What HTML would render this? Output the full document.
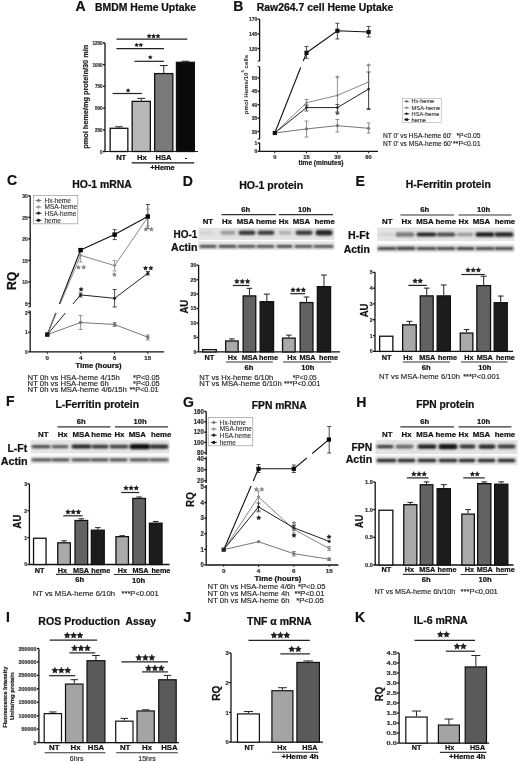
<!DOCTYPE html><html><head><meta charset="utf-8"><style>html,body{margin:0;padding:0;background:#fff;}svg{display:block;will-change:transform;filter:blur(0.3px);}</style></head><body>
<svg width="520" height="762" viewBox="0 0 520 762" font-family='"Liberation Sans", sans-serif'>
<defs><filter id="bl" x="-20%" y="-50%" width="140%" height="200%"><feGaussianBlur stdDeviation="0.9"/></filter><filter id="bl2" x="-20%" y="-50%" width="140%" height="200%"><feGaussianBlur stdDeviation="0.7"/></filter></defs>
<rect width="520" height="762" fill="#fff"/>
<text x="75.4" y="10.7" font-size="14" font-weight="bold" text-anchor="start" fill="#111" stroke="#111" stroke-width="0.22">A</text>
<text x="95" y="11" font-size="10.4" font-weight="bold" text-anchor="start" fill="#111" stroke="#111" stroke-width="0.22" textLength="101" lengthAdjust="spacingAndGlyphs">BMDM Heme Uptake</text>
<line x1="105" y1="43" x2="105" y2="151.5" stroke="#111" stroke-width="1.3"/>
<line x1="103" y1="43.0" x2="105" y2="43.0" stroke="#111" stroke-width="1.3"/>
<text x="102.7" y="45.02" font-size="5.6" font-weight="bold" text-anchor="end" fill="#333" stroke="#333" stroke-width="0.22" textLength="10.32" lengthAdjust="spacingAndGlyphs">1250</text>
<line x1="103" y1="64.7" x2="105" y2="64.7" stroke="#111" stroke-width="1.3"/>
<text x="102.7" y="66.72" font-size="5.6" font-weight="bold" text-anchor="end" fill="#333" stroke="#333" stroke-width="0.22" textLength="10.32" lengthAdjust="spacingAndGlyphs">1000</text>
<line x1="103" y1="86.4" x2="105" y2="86.4" stroke="#111" stroke-width="1.3"/>
<text x="102.7" y="88.42" font-size="5.6" font-weight="bold" text-anchor="end" fill="#333" stroke="#333" stroke-width="0.22" textLength="7.74" lengthAdjust="spacingAndGlyphs">750</text>
<line x1="103" y1="108.1" x2="105" y2="108.1" stroke="#111" stroke-width="1.3"/>
<text x="102.7" y="110.12" font-size="5.6" font-weight="bold" text-anchor="end" fill="#333" stroke="#333" stroke-width="0.22" textLength="7.74" lengthAdjust="spacingAndGlyphs">500</text>
<line x1="103" y1="129.8" x2="105" y2="129.8" stroke="#111" stroke-width="1.3"/>
<text x="102.7" y="131.82" font-size="5.6" font-weight="bold" text-anchor="end" fill="#333" stroke="#333" stroke-width="0.22" textLength="7.74" lengthAdjust="spacingAndGlyphs">250</text>
<line x1="103" y1="151.5" x2="105" y2="151.5" stroke="#111" stroke-width="1.3"/>
<text x="102.7" y="153.52" font-size="5.6" font-weight="bold" text-anchor="end" fill="#333" stroke="#333" stroke-width="0.22" textLength="2.58" lengthAdjust="spacingAndGlyphs">0</text>
<line x1="105" y1="151.5" x2="198" y2="151.5" stroke="#222" stroke-width="1.2"/>
<text x="88.2" y="96.8" font-size="7.6" font-weight="bold" text-anchor="middle" fill="#222" stroke="#222" stroke-width="0.22" textLength="104" lengthAdjust="spacingAndGlyphs" transform="rotate(-90 88.2 96.8)">pmol heme/mg protein/30 min</text>
<rect x="110.15" y="128.28" width="17.7" height="23.220000000000006" fill="#ffffff" stroke="#111" stroke-width="1.3"/>
<line x1="119.0" y1="127.63" x2="119.0" y2="126.762" stroke="#222" stroke-width="1.0"/>
<line x1="115.2" y1="126.762" x2="122.8" y2="126.762" stroke="#222" stroke-width="1.0"/>
<rect x="132.15" y="101.37200000000001" width="18.2" height="50.12799999999999" fill="#b8b8b8" stroke="#111" stroke-width="1.3"/>
<line x1="141.25" y1="100.72200000000001" x2="141.25" y2="98.3784" stroke="#222" stroke-width="1.0"/>
<line x1="137.35" y1="98.3784" x2="145.15" y2="98.3784" stroke="#222" stroke-width="1.0"/>
<rect x="154.65" y="73.596" width="18.2" height="77.904" fill="#7a7a7a" stroke="#111" stroke-width="1.3"/>
<line x1="163.75" y1="72.946" x2="163.75" y2="65.568" stroke="#222" stroke-width="1.0"/>
<line x1="159.85" y1="65.568" x2="167.65" y2="65.568" stroke="#222" stroke-width="1.0"/>
<rect x="176.45000000000002" y="62.312000000000005" width="17.899999999999988" height="89.18799999999999" fill="#0a0a0a" stroke="#111" stroke-width="1.3"/>
<line x1="185.4" y1="61.662000000000006" x2="185.4" y2="61.227999999999994" stroke="#222" stroke-width="1.0"/>
<line x1="181.56" y1="61.227999999999994" x2="189.24" y2="61.227999999999994" stroke="#222" stroke-width="1.0"/>
<line x1="116.5" y1="39.1" x2="187.3" y2="39.1" stroke="#222" stroke-width="1.2"/>
<polygon points="149.12,33.41 149.90,34.99 151.65,35.24 150.38,36.48 150.68,38.22 149.12,37.40 147.55,38.22 147.85,36.48 146.59,35.24 148.33,34.99" fill="#222"/>
<polygon points="153.55,33.41 154.33,34.99 156.08,35.24 154.81,36.48 155.11,38.22 153.55,37.40 151.99,38.22 152.29,36.48 151.02,35.24 152.77,34.99" fill="#222"/>
<polygon points="157.98,33.41 158.77,34.99 160.51,35.24 159.25,36.48 159.55,38.22 157.98,37.40 156.42,38.22 156.72,36.48 155.45,35.24 157.20,34.99" fill="#222"/>
<line x1="116.5" y1="48.6" x2="164" y2="48.6" stroke="#222" stroke-width="1.2"/>
<polygon points="136.68,42.56 137.41,44.04 139.04,44.28 137.86,45.43 138.14,47.06 136.68,46.29 135.21,47.06 135.49,45.43 134.31,44.28 135.94,44.04" fill="#222"/>
<polygon points="140.82,42.56 141.56,44.04 143.19,44.28 142.01,45.43 142.29,47.06 140.82,46.29 139.36,47.06 139.64,45.43 138.46,44.28 140.09,44.04" fill="#222"/>
<line x1="134.4" y1="61.3" x2="164" y2="61.3" stroke="#222" stroke-width="1.2"/>
<polygon points="150.25,54.89 150.97,56.35 152.59,56.59 151.42,57.73 151.70,59.34 150.25,58.58 148.80,59.34 149.08,57.73 147.91,56.59 149.53,56.35" fill="#222"/>
<line x1="112.6" y1="93.5" x2="141.8" y2="93.5" stroke="#222" stroke-width="1.2"/>
<polygon points="128.10,87.93 128.84,89.43 130.50,89.67 129.30,90.84 129.58,92.49 128.10,91.71 126.62,92.49 126.90,90.84 125.70,89.67 127.36,89.43" fill="#222"/>
<text x="121.2" y="160.3" font-size="7.6" font-weight="bold" text-anchor="middle" fill="#111" stroke="#111" stroke-width="0.22">NT</text>
<text x="141.9" y="160.3" font-size="7.6" font-weight="bold" text-anchor="middle" fill="#111" stroke="#111" stroke-width="0.22">Hx</text>
<text x="163.5" y="160.3" font-size="7.6" font-weight="bold" text-anchor="middle" fill="#111" stroke="#111" stroke-width="0.22">HSA</text>
<text x="186" y="160.3" font-size="7.6" font-weight="bold" text-anchor="middle" fill="#111" stroke="#111" stroke-width="0.22">-</text>
<line x1="131.7" y1="162.8" x2="194.2" y2="162.8" stroke="#111" stroke-width="1.3"/>
<text x="162.5" y="169.9" font-size="7.4" font-weight="bold" text-anchor="middle" fill="#111" stroke="#111" stroke-width="0.22">+Heme</text>
<text x="233.3" y="10.6" font-size="14" font-weight="bold" text-anchor="start" fill="#111" stroke="#111" stroke-width="0.22">B</text>
<text x="256.8" y="10.6" font-size="10.4" font-weight="bold" text-anchor="start" fill="#111" stroke="#111" stroke-width="0.22" textLength="136.6" lengthAdjust="spacingAndGlyphs">Raw264.7 cell Heme Uptake</text>
<line x1="259.6" y1="19.2" x2="259.6" y2="61.2" stroke="#111" stroke-width="1.3"/>
<line x1="257.6" y1="19.2" x2="259.6" y2="19.2" stroke="#111" stroke-width="1.3"/>
<text x="257.3" y="21.22" font-size="5.6" font-weight="bold" text-anchor="end" fill="#333" stroke="#333" stroke-width="0.22" textLength="8.4" lengthAdjust="spacingAndGlyphs">170</text>
<line x1="257.6" y1="33.85" x2="259.6" y2="33.85" stroke="#111" stroke-width="1.3"/>
<text x="257.3" y="35.87" font-size="5.6" font-weight="bold" text-anchor="end" fill="#333" stroke="#333" stroke-width="0.22" textLength="8.4" lengthAdjust="spacingAndGlyphs">145</text>
<line x1="257.6" y1="48.5" x2="259.6" y2="48.5" stroke="#111" stroke-width="1.3"/>
<text x="257.3" y="50.52" font-size="5.6" font-weight="bold" text-anchor="end" fill="#333" stroke="#333" stroke-width="0.22" textLength="8.4" lengthAdjust="spacingAndGlyphs">120</text>
<line x1="257.6" y1="61.2" x2="259.6" y2="61.2" stroke="#222" stroke-width="1"/>
<line x1="259.6" y1="66.7" x2="259.6" y2="139.2" stroke="#111" stroke-width="1.3"/>
<line x1="257.6" y1="77.9" x2="259.6" y2="77.9" stroke="#111" stroke-width="1.3"/>
<text x="257.3" y="79.92" font-size="5.6" font-weight="bold" text-anchor="end" fill="#333" stroke="#333" stroke-width="0.22" textLength="5.6" lengthAdjust="spacingAndGlyphs">50</text>
<line x1="257.6" y1="91.30000000000001" x2="259.6" y2="91.30000000000001" stroke="#111" stroke-width="1.3"/>
<text x="257.3" y="93.32" font-size="5.6" font-weight="bold" text-anchor="end" fill="#333" stroke="#333" stroke-width="0.22" textLength="5.6" lengthAdjust="spacingAndGlyphs">45</text>
<line x1="257.6" y1="104.7" x2="259.6" y2="104.7" stroke="#111" stroke-width="1.3"/>
<text x="257.3" y="106.72" font-size="5.6" font-weight="bold" text-anchor="end" fill="#333" stroke="#333" stroke-width="0.22" textLength="5.6" lengthAdjust="spacingAndGlyphs">40</text>
<line x1="257.6" y1="118.1" x2="259.6" y2="118.1" stroke="#111" stroke-width="1.3"/>
<text x="257.3" y="120.12" font-size="5.6" font-weight="bold" text-anchor="end" fill="#333" stroke="#333" stroke-width="0.22" textLength="5.6" lengthAdjust="spacingAndGlyphs">35</text>
<line x1="257.6" y1="131.5" x2="259.6" y2="131.5" stroke="#111" stroke-width="1.3"/>
<text x="257.3" y="133.52" font-size="5.6" font-weight="bold" text-anchor="end" fill="#333" stroke="#333" stroke-width="0.22" textLength="5.6" lengthAdjust="spacingAndGlyphs">30</text>
<line x1="257.6" y1="66.7" x2="259.6" y2="66.7" stroke="#222" stroke-width="1"/>
<line x1="257.6" y1="139.2" x2="259.6" y2="139.2" stroke="#222" stroke-width="1"/>
<line x1="259.6" y1="142.7" x2="259.6" y2="151.3" stroke="#111" stroke-width="1.3"/>
<line x1="257.6" y1="143.0" x2="259.6" y2="143.0" stroke="#111" stroke-width="1.3"/>
<text x="257.3" y="145.02" font-size="5.6" font-weight="bold" text-anchor="end" fill="#333" stroke="#333" stroke-width="0.22" textLength="2.8" lengthAdjust="spacingAndGlyphs">1</text>
<line x1="257.6" y1="151.3" x2="259.6" y2="151.3" stroke="#111" stroke-width="1.3"/>
<text x="257.3" y="153.32" font-size="5.6" font-weight="bold" text-anchor="end" fill="#333" stroke="#333" stroke-width="0.22" textLength="2.8" lengthAdjust="spacingAndGlyphs">0</text>
<line x1="259.6" y1="151.3" x2="378" y2="151.3" stroke="#111" stroke-width="1.3"/>
<line x1="274.8" y1="151.3" x2="274.8" y2="153.3" stroke="#222" stroke-width="1"/>
<text x="274.8" y="158.9" font-size="5.8" font-weight="bold" text-anchor="middle" fill="#333" stroke="#333" stroke-width="0.22">0</text>
<line x1="306.5" y1="151.3" x2="306.5" y2="153.3" stroke="#222" stroke-width="1"/>
<text x="306.5" y="158.9" font-size="5.8" font-weight="bold" text-anchor="middle" fill="#333" stroke="#333" stroke-width="0.22">15</text>
<line x1="337.4" y1="151.3" x2="337.4" y2="153.3" stroke="#222" stroke-width="1"/>
<text x="337.4" y="158.9" font-size="5.8" font-weight="bold" text-anchor="middle" fill="#333" stroke="#333" stroke-width="0.22">30</text>
<line x1="368.6" y1="151.3" x2="368.6" y2="153.3" stroke="#222" stroke-width="1"/>
<text x="368.6" y="158.9" font-size="5.8" font-weight="bold" text-anchor="middle" fill="#333" stroke="#333" stroke-width="0.22">60</text>
<text x="321" y="164.8" font-size="6.6" font-weight="bold" text-anchor="middle" fill="#222" stroke="#222" stroke-width="0.22" textLength="45" lengthAdjust="spacingAndGlyphs">time (minutes)</text>
<g transform="rotate(-90 247.8 114.2)"><text x="247.8" y="114.2" font-size="6" font-weight="bold" fill="#222" textLength="41.7" lengthAdjust="spacingAndGlyphs">pmol Heme/10</text><text x="289.6" y="110.6" font-size="4.2" font-weight="bold" fill="#222">6</text><text x="293.6" y="114.2" font-size="6" font-weight="bold" fill="#222" textLength="13.6" lengthAdjust="spacingAndGlyphs">cells</text></g>
<line x1="306.5" y1="46.5" x2="306.5" y2="58.3" stroke="#222" stroke-width="0.8"/>
<line x1="304.5" y1="46.5" x2="308.5" y2="46.5" stroke="#222" stroke-width="0.8"/>
<line x1="304.5" y1="58.3" x2="308.5" y2="58.3" stroke="#222" stroke-width="0.8"/>
<line x1="337.4" y1="23.3" x2="337.4" y2="39" stroke="#222" stroke-width="0.8"/>
<line x1="335.4" y1="23.3" x2="339.4" y2="23.3" stroke="#222" stroke-width="0.8"/>
<line x1="335.4" y1="39" x2="339.4" y2="39" stroke="#222" stroke-width="0.8"/>
<line x1="368.6" y1="26.4" x2="368.6" y2="37" stroke="#222" stroke-width="0.8"/>
<line x1="366.6" y1="26.4" x2="370.6" y2="26.4" stroke="#222" stroke-width="0.8"/>
<line x1="366.6" y1="37" x2="370.6" y2="37" stroke="#222" stroke-width="0.8"/>
<polyline points="306.5,52.8 337.4,30.8 368.6,32" fill="none" stroke="#111" stroke-width="1.1"/>
<line x1="274.8" y1="133" x2="300.689650872818" y2="67.5" stroke="#111" stroke-width="1.1"/>
<line x1="303.25885286783046" y1="61" x2="306.5" y2="52.8" stroke="#111" stroke-width="1.1"/>
<line x1="337.4" y1="77" x2="337.4" y2="113" stroke="#777" stroke-width="0.8"/>
<line x1="335.4" y1="77" x2="339.4" y2="77" stroke="#777" stroke-width="0.8"/>
<line x1="335.4" y1="113" x2="339.4" y2="113" stroke="#777" stroke-width="0.8"/>
<line x1="368.6" y1="65.2" x2="368.6" y2="109.2" stroke="#777" stroke-width="0.8"/>
<line x1="366.6" y1="65.2" x2="370.6" y2="65.2" stroke="#777" stroke-width="0.8"/>
<line x1="366.6" y1="109.2" x2="370.6" y2="109.2" stroke="#777" stroke-width="0.8"/>
<line x1="306.5" y1="99.5" x2="306.5" y2="106" stroke="#777" stroke-width="0.8"/>
<line x1="304.5" y1="99.5" x2="308.5" y2="99.5" stroke="#777" stroke-width="0.8"/>
<line x1="304.5" y1="106" x2="308.5" y2="106" stroke="#777" stroke-width="0.8"/>
<polyline points="274.8,133 306.5,102.7 337.4,95.4 368.6,82" fill="none" stroke="#888" stroke-width="1"/>
<line x1="306.5" y1="105" x2="306.5" y2="111" stroke="#333" stroke-width="0.8"/>
<line x1="304.5" y1="105" x2="308.5" y2="105" stroke="#333" stroke-width="0.8"/>
<line x1="304.5" y1="111" x2="308.5" y2="111" stroke="#333" stroke-width="0.8"/>
<line x1="337.4" y1="104.5" x2="337.4" y2="112" stroke="#333" stroke-width="0.8"/>
<line x1="335.4" y1="104.5" x2="339.4" y2="104.5" stroke="#333" stroke-width="0.8"/>
<line x1="335.4" y1="112" x2="339.4" y2="112" stroke="#333" stroke-width="0.8"/>
<line x1="368.6" y1="72" x2="368.6" y2="109" stroke="#333" stroke-width="0.8"/>
<line x1="366.6" y1="72" x2="370.6" y2="72" stroke="#333" stroke-width="0.8"/>
<line x1="366.6" y1="109" x2="370.6" y2="109" stroke="#333" stroke-width="0.8"/>
<polyline points="274.8,133 306.5,107.6 337.4,107.6 368.6,89.1" fill="none" stroke="#222" stroke-width="1"/>
<line x1="306.5" y1="121" x2="306.5" y2="137" stroke="#777" stroke-width="0.8"/>
<line x1="304.5" y1="121" x2="308.5" y2="121" stroke="#777" stroke-width="0.8"/>
<line x1="304.5" y1="137" x2="308.5" y2="137" stroke="#777" stroke-width="0.8"/>
<line x1="337.4" y1="119.5" x2="337.4" y2="132" stroke="#777" stroke-width="0.8"/>
<line x1="335.4" y1="119.5" x2="339.4" y2="119.5" stroke="#777" stroke-width="0.8"/>
<line x1="335.4" y1="132" x2="339.4" y2="132" stroke="#777" stroke-width="0.8"/>
<line x1="368.6" y1="123" x2="368.6" y2="133" stroke="#777" stroke-width="0.8"/>
<line x1="366.6" y1="123" x2="370.6" y2="123" stroke="#777" stroke-width="0.8"/>
<line x1="366.6" y1="133" x2="370.6" y2="133" stroke="#777" stroke-width="0.8"/>
<polyline points="274.8,133 306.5,128.9 337.4,125.7 368.6,128.3" fill="none" stroke="#777" stroke-width="1"/>
<circle cx="306.5" cy="128.9" r="1.6" fill="#777"/>
<circle cx="337.4" cy="125.7" r="1.6" fill="#777"/>
<circle cx="368.6" cy="128.3" r="1.6" fill="#777"/>
<polygon points="306.5,101.14 308.06,102.7 306.5,104.26 304.94,102.7" fill="#888"/>
<polygon points="337.4,93.84 338.96,95.4 337.4,96.96000000000001 335.84,95.4" fill="#888"/>
<polygon points="368.6,80.44 370.16,82 368.6,83.56 367.04,82" fill="#888"/>
<polygon points="306.5,105.91999999999999 308.18,107.6 306.5,109.28 304.82,107.6" fill="#222"/>
<polygon points="337.4,105.91999999999999 339.08,107.6 337.4,109.28 335.71999999999997,107.6" fill="#222"/>
<polygon points="368.6,87.41999999999999 370.28000000000003,89.1 368.6,90.78 366.92,89.1" fill="#222"/>
<rect x="304.4" y="50.699999999999996" width="4.2" height="4.2" fill="#111"/>
<rect x="335.29999999999995" y="28.7" width="4.2" height="4.2" fill="#111"/>
<rect x="366.5" y="29.9" width="4.2" height="4.2" fill="#111"/>
<rect x="272.7" y="130.9" width="4.2" height="4.2" fill="#111"/>
<polygon points="337.40,75.00 337.99,76.19 339.30,76.38 338.35,77.31 338.58,78.62 337.40,78.00 336.22,78.62 336.45,77.31 335.50,76.38 336.81,76.19" fill="#888"/>
<polygon points="368.60,63.00 369.19,64.19 370.50,64.38 369.55,65.31 369.78,66.62 368.60,66.00 367.42,66.62 367.65,65.31 366.70,64.38 368.01,64.19" fill="#888"/>
<polygon points="368.60,106.80 369.19,107.99 370.50,108.18 369.55,109.11 369.78,110.42 368.60,109.80 367.42,110.42 367.65,109.11 366.70,108.18 368.01,107.99" fill="#444"/>
<polygon points="337.40,111.60 337.99,112.79 339.30,112.98 338.35,113.91 338.58,115.22 337.40,114.60 336.22,115.22 336.45,113.91 335.50,112.98 336.81,112.79" fill="#444"/>
<rect x="402.6" y="98.5" width="38.6" height="23.9" fill="#fff" stroke="#aaa" stroke-width="0.6"/>
<line x1="404" y1="101.4" x2="409.5" y2="101.4" stroke="#777" stroke-width="0.8"/>
<circle cx="406.6" cy="101.4" r="1.3" fill="#777"/>
<text x="411.6" y="103.4" font-size="5.7" text-anchor="start" fill="#333" stroke="#333" stroke-width="0.13" textLength="22.5" lengthAdjust="spacingAndGlyphs">Hx-heme</text>
<line x1="404" y1="107.8" x2="409.5" y2="107.8" stroke="#888" stroke-width="0.8"/>
<polygon points="406.6,106.24 408.16,107.8 406.6,109.36 405.04,107.8" fill="#888"/>
<text x="411.6" y="109.8" font-size="5.7" text-anchor="start" fill="#333" stroke="#333" stroke-width="0.13" textLength="28.6" lengthAdjust="spacingAndGlyphs">MSA-heme</text>
<line x1="404" y1="113.8" x2="409.5" y2="113.8" stroke="#222" stroke-width="0.8"/>
<polygon points="406.6,112.24 408.16,113.8 406.6,115.36 405.04,113.8" fill="#222"/>
<text x="411.6" y="115.8" font-size="5.7" text-anchor="start" fill="#333" stroke="#333" stroke-width="0.13" textLength="27.8" lengthAdjust="spacingAndGlyphs">HSA-heme</text>
<line x1="404" y1="119.6" x2="409.5" y2="119.6" stroke="#111" stroke-width="0.8"/>
<rect x="405.3" y="118.3" width="2.6" height="2.6" fill="#111"/>
<text x="411.6" y="121.6" font-size="5.7" text-anchor="start" fill="#333" stroke="#333" stroke-width="0.13" textLength="14.2" lengthAdjust="spacingAndGlyphs">heme</text>
<text x="383" y="138.3" font-size="6.4" text-anchor="start" fill="#222" stroke="#222" stroke-width="0.13" textLength="68.6" lengthAdjust="spacingAndGlyphs">NT 0' vs HSA-heme 60'</text>
<text x="383" y="146.3" font-size="6.4" text-anchor="start" fill="#222" stroke="#222" stroke-width="0.13" textLength="69" lengthAdjust="spacingAndGlyphs">NT 0' vs MSA-heme 60'</text>
<text x="480.5" y="138.3" font-size="6.4" text-anchor="end" fill="#222" stroke="#222" stroke-width="0.13" textLength="24" lengthAdjust="spacingAndGlyphs">*P&lt;0.05</text>
<text x="480.5" y="146.3" font-size="6.4" text-anchor="end" fill="#222" stroke="#222" stroke-width="0.13" textLength="27.5" lengthAdjust="spacingAndGlyphs">**P&lt;0.01</text>
<text x="7.0" y="185.4" font-size="14" font-weight="bold" text-anchor="start" fill="#111" stroke="#111" stroke-width="0.22">C</text>
<text x="72.3" y="188.3" font-size="10.1" font-weight="bold" text-anchor="start" fill="#111" stroke="#111" stroke-width="0.22" textLength="59.5" lengthAdjust="spacingAndGlyphs">HO-1 mRNA</text>
<line x1="30.2" y1="195.8" x2="30.2" y2="306.9" stroke="#111" stroke-width="1.3"/>
<line x1="28.2" y1="195.8" x2="30.2" y2="195.8" stroke="#111" stroke-width="1.3"/>
<text x="27.9" y="197.96" font-size="6" font-weight="bold" text-anchor="end" fill="#333" stroke="#333" stroke-width="0.22" textLength="5.6" lengthAdjust="spacingAndGlyphs">30</text>
<line x1="28.2" y1="217.34" x2="30.2" y2="217.34" stroke="#111" stroke-width="1.3"/>
<text x="27.9" y="219.5" font-size="6" font-weight="bold" text-anchor="end" fill="#333" stroke="#333" stroke-width="0.22" textLength="5.6" lengthAdjust="spacingAndGlyphs">25</text>
<line x1="28.2" y1="238.88" x2="30.2" y2="238.88" stroke="#111" stroke-width="1.3"/>
<text x="27.9" y="241.04" font-size="6" font-weight="bold" text-anchor="end" fill="#333" stroke="#333" stroke-width="0.22" textLength="5.6" lengthAdjust="spacingAndGlyphs">20</text>
<line x1="28.2" y1="260.42" x2="30.2" y2="260.42" stroke="#111" stroke-width="1.3"/>
<text x="27.9" y="262.58" font-size="6" font-weight="bold" text-anchor="end" fill="#333" stroke="#333" stroke-width="0.22" textLength="5.6" lengthAdjust="spacingAndGlyphs">15</text>
<line x1="28.2" y1="281.96000000000004" x2="30.2" y2="281.96000000000004" stroke="#111" stroke-width="1.3"/>
<text x="27.9" y="284.12" font-size="6" font-weight="bold" text-anchor="end" fill="#333" stroke="#333" stroke-width="0.22" textLength="5.6" lengthAdjust="spacingAndGlyphs">10</text>
<line x1="28.2" y1="303.5" x2="30.2" y2="303.5" stroke="#111" stroke-width="1.3"/>
<text x="27.9" y="305.66" font-size="6" font-weight="bold" text-anchor="end" fill="#333" stroke="#333" stroke-width="0.22" textLength="2.8" lengthAdjust="spacingAndGlyphs">5</text>
<line x1="30.2" y1="311" x2="30.2" y2="351.9" stroke="#111" stroke-width="1.3"/>
<line x1="28.2" y1="312.7" x2="30.2" y2="312.7" stroke="#111" stroke-width="1.3"/>
<text x="27.9" y="314.86" font-size="6" font-weight="bold" text-anchor="end" fill="#333" stroke="#333" stroke-width="0.22" textLength="2.8" lengthAdjust="spacingAndGlyphs">2</text>
<line x1="28.2" y1="332.29999999999995" x2="30.2" y2="332.29999999999995" stroke="#111" stroke-width="1.3"/>
<text x="27.9" y="334.46" font-size="6" font-weight="bold" text-anchor="end" fill="#333" stroke="#333" stroke-width="0.22" textLength="2.8" lengthAdjust="spacingAndGlyphs">1</text>
<line x1="28.2" y1="351.9" x2="30.2" y2="351.9" stroke="#111" stroke-width="1.3"/>
<text x="27.9" y="354.06" font-size="6" font-weight="bold" text-anchor="end" fill="#333" stroke="#333" stroke-width="0.22" textLength="2.8" lengthAdjust="spacingAndGlyphs">0</text>
<line x1="28.2" y1="306.9" x2="30.2" y2="306.9" stroke="#222" stroke-width="1"/>
<line x1="28.2" y1="311" x2="30.2" y2="311" stroke="#222" stroke-width="1"/>
<line x1="30.2" y1="351.9" x2="164.2" y2="351.9" stroke="#111" stroke-width="1.3"/>
<line x1="47.3" y1="351.9" x2="47.3" y2="353.9" stroke="#222" stroke-width="1"/>
<text x="47.3" y="360.4" font-size="6.2" font-weight="bold" text-anchor="middle" fill="#333" stroke="#333" stroke-width="0.22">0</text>
<line x1="80.8" y1="351.9" x2="80.8" y2="353.9" stroke="#222" stroke-width="1"/>
<text x="80.8" y="360.4" font-size="6.2" font-weight="bold" text-anchor="middle" fill="#333" stroke="#333" stroke-width="0.22">4</text>
<line x1="114.6" y1="351.9" x2="114.6" y2="353.9" stroke="#222" stroke-width="1"/>
<text x="114.6" y="360.4" font-size="6.2" font-weight="bold" text-anchor="middle" fill="#333" stroke="#333" stroke-width="0.22">6</text>
<line x1="147.8" y1="351.9" x2="147.8" y2="353.9" stroke="#222" stroke-width="1"/>
<text x="147.8" y="360.4" font-size="6.2" font-weight="bold" text-anchor="middle" fill="#333" stroke="#333" stroke-width="0.22">15</text>
<text x="98.5" y="368.4" font-size="7.6" font-weight="bold" text-anchor="middle" fill="#111" stroke="#111" stroke-width="0.22" textLength="46" lengthAdjust="spacingAndGlyphs">Time (hours)</text>
<text x="16.2" y="280.9" font-size="12.3" font-weight="bold" text-anchor="middle" fill="#111" stroke="#111" stroke-width="0.22" textLength="18.3" lengthAdjust="spacingAndGlyphs" transform="rotate(-90 16.2 280.9)">RQ</text>
<line x1="114.6" y1="229.6" x2="114.6" y2="239.6" stroke="#222" stroke-width="0.8"/>
<line x1="112.6" y1="229.6" x2="116.6" y2="229.6" stroke="#222" stroke-width="0.8"/>
<line x1="112.6" y1="239.6" x2="116.6" y2="239.6" stroke="#222" stroke-width="0.8"/>
<line x1="147.8" y1="204.5" x2="147.8" y2="228.5" stroke="#222" stroke-width="0.8"/>
<line x1="145.8" y1="204.5" x2="149.8" y2="204.5" stroke="#222" stroke-width="0.8"/>
<line x1="145.8" y1="228.5" x2="149.8" y2="228.5" stroke="#222" stroke-width="0.8"/>
<line x1="80.6" y1="248.5" x2="80.6" y2="251.5" stroke="#222" stroke-width="0.8"/>
<line x1="78.6" y1="248.5" x2="82.6" y2="248.5" stroke="#222" stroke-width="0.8"/>
<line x1="78.6" y1="251.5" x2="82.6" y2="251.5" stroke="#222" stroke-width="0.8"/>
<polyline points="80.6,250.1 114.6,234.6 147.8,216.5" fill="none" stroke="#111" stroke-width="1.1"/>
<line x1="80.6" y1="251" x2="80.6" y2="262" stroke="#888" stroke-width="0.8"/>
<line x1="78.6" y1="251" x2="82.6" y2="251" stroke="#888" stroke-width="0.8"/>
<line x1="78.6" y1="262" x2="82.6" y2="262" stroke="#888" stroke-width="0.8"/>
<line x1="114.6" y1="260.5" x2="114.6" y2="271" stroke="#888" stroke-width="0.8"/>
<line x1="112.6" y1="260.5" x2="116.6" y2="260.5" stroke="#888" stroke-width="0.8"/>
<line x1="112.6" y1="271" x2="116.6" y2="271" stroke="#888" stroke-width="0.8"/>
<line x1="147.8" y1="209" x2="147.8" y2="226" stroke="#888" stroke-width="0.8"/>
<line x1="145.8" y1="209" x2="149.8" y2="209" stroke="#888" stroke-width="0.8"/>
<line x1="145.8" y1="226" x2="149.8" y2="226" stroke="#888" stroke-width="0.8"/>
<polyline points="80.6,255.3 114.6,265.6 147.8,217.3" fill="none" stroke="#888" stroke-width="1"/>
<line x1="80.6" y1="293" x2="80.6" y2="297" stroke="#222" stroke-width="0.8"/>
<line x1="78.6" y1="293" x2="82.6" y2="293" stroke="#222" stroke-width="0.8"/>
<line x1="78.6" y1="297" x2="82.6" y2="297" stroke="#222" stroke-width="0.8"/>
<line x1="114.6" y1="289.5" x2="114.6" y2="307" stroke="#222" stroke-width="0.8"/>
<line x1="112.6" y1="289.5" x2="116.6" y2="289.5" stroke="#222" stroke-width="0.8"/>
<line x1="112.6" y1="307" x2="116.6" y2="307" stroke="#222" stroke-width="0.8"/>
<line x1="147.8" y1="271.5" x2="147.8" y2="275" stroke="#222" stroke-width="0.8"/>
<line x1="145.8" y1="271.5" x2="149.8" y2="271.5" stroke="#222" stroke-width="0.8"/>
<line x1="145.8" y1="275" x2="149.8" y2="275" stroke="#222" stroke-width="0.8"/>
<polyline points="80.6,294.9 114.6,298.3 147.8,273.3" fill="none" stroke="#222" stroke-width="1"/>
<line x1="80.6" y1="315.5" x2="80.6" y2="329.5" stroke="#777" stroke-width="0.8"/>
<line x1="78.6" y1="315.5" x2="82.6" y2="315.5" stroke="#777" stroke-width="0.8"/>
<line x1="78.6" y1="329.5" x2="82.6" y2="329.5" stroke="#777" stroke-width="0.8"/>
<line x1="114.6" y1="322.5" x2="114.6" y2="326.5" stroke="#777" stroke-width="0.8"/>
<line x1="112.6" y1="322.5" x2="116.6" y2="322.5" stroke="#777" stroke-width="0.8"/>
<line x1="112.6" y1="326.5" x2="116.6" y2="326.5" stroke="#777" stroke-width="0.8"/>
<line x1="147.8" y1="335" x2="147.8" y2="340" stroke="#777" stroke-width="0.8"/>
<line x1="145.8" y1="335" x2="149.8" y2="335" stroke="#777" stroke-width="0.8"/>
<line x1="145.8" y1="340" x2="149.8" y2="340" stroke="#777" stroke-width="0.8"/>
<polyline points="47.3,334.6 80.6,322.5 114.6,324.5 147.8,337.2" fill="none" stroke="#777" stroke-width="1"/>
<line x1="47.3" y1="334.6" x2="55.81218934911243" y2="313" stroke="#111" stroke-width="1.1"/>
<line x1="59.358934911242606" y1="304" x2="80.6" y2="250.1" stroke="#111" stroke-width="1.1"/>
<line x1="47.3" y1="334.6" x2="56.3703656998739" y2="313" stroke="#888" stroke-width="1"/>
<line x1="60.149684741488024" y1="304" x2="80.6" y2="255.3" stroke="#888" stroke-width="1"/>
<line x1="47.3" y1="334.6" x2="65.41788413098236" y2="313" stroke="#222" stroke-width="1"/>
<line x1="72.96700251889168" y1="304" x2="80.6" y2="294.9" stroke="#222" stroke-width="1"/>
<circle cx="80.6" cy="322.5" r="1.7" fill="#777"/>
<circle cx="114.6" cy="324.5" r="1.7" fill="#777"/>
<circle cx="147.8" cy="337.2" r="1.7" fill="#777"/>
<polygon points="80.6,253.5 82.39999999999999,255.3 80.6,257.1 78.8,255.3" fill="#888"/>
<polygon points="114.6,263.8 116.39999999999999,265.6 114.6,267.40000000000003 112.8,265.6" fill="#888"/>
<polygon points="147.8,215.5 149.60000000000002,217.3 147.8,219.10000000000002 146.0,217.3" fill="#888"/>
<polygon points="80.6,292.97999999999996 82.52,294.9 80.6,296.82 78.67999999999999,294.9" fill="#222"/>
<polygon points="114.6,296.38 116.52,298.3 114.6,300.22 112.67999999999999,298.3" fill="#222"/>
<polygon points="147.8,271.38 149.72,273.3 147.8,275.22 145.88000000000002,273.3" fill="#222"/>
<rect x="78.39999999999999" y="247.9" width="4.4" height="4.4" fill="#000"/>
<rect x="112.39999999999999" y="232.4" width="4.4" height="4.4" fill="#000"/>
<rect x="145.60000000000002" y="214.3" width="4.4" height="4.4" fill="#000"/>
<rect x="45.099999999999994" y="332.40000000000003" width="4.4" height="4.4" fill="#111"/>
<polygon points="78.45,264.62 79.26,266.26 81.07,266.53 79.76,267.80 80.07,269.60 78.45,268.75 76.83,269.60 77.14,267.80 75.83,266.53 77.64,266.26" fill="#8a8a8a"/>
<polygon points="83.75,264.62 84.56,266.26 86.37,266.53 85.06,267.80 85.37,269.60 83.75,268.75 82.13,269.60 82.44,267.80 81.13,266.53 82.94,266.26" fill="#8a8a8a"/>
<polygon points="81.10,286.62 81.91,288.26 83.72,288.53 82.41,289.80 82.72,291.60 81.10,290.75 79.48,291.60 79.79,289.80 78.48,288.53 80.29,288.26" fill="#222"/>
<polygon points="114.40,271.92 115.21,273.56 117.02,273.83 115.71,275.10 116.02,276.90 114.40,276.05 112.78,276.90 113.09,275.10 111.78,273.83 113.59,273.56" fill="#8a8a8a"/>
<polygon points="145.90,226.62 146.71,228.26 148.52,228.53 147.21,229.80 147.52,231.60 145.90,230.75 144.28,231.60 144.59,229.80 143.28,228.53 145.09,228.26" fill="#8a8a8a"/>
<polygon points="151.30,226.62 152.11,228.26 153.92,228.53 152.61,229.80 152.92,231.60 151.30,230.75 149.68,231.60 149.99,229.80 148.68,228.53 150.49,228.26" fill="#8a8a8a"/>
<polygon points="145.50,265.42 146.31,267.06 148.12,267.33 146.81,268.60 147.12,270.40 145.50,269.55 143.88,270.40 144.19,268.60 142.88,267.33 144.69,267.06" fill="#222"/>
<polygon points="150.90,265.42 151.71,267.06 153.52,267.33 152.21,268.60 152.52,270.40 150.90,269.55 149.28,270.40 149.59,268.60 148.28,267.33 150.09,267.06" fill="#222"/>
<rect x="33.5" y="195.5" width="44.3" height="28.3" fill="#fff" stroke="#999" stroke-width="0.7"/>
<line x1="35.5" y1="200.5" x2="41.5" y2="200.5" stroke="#777" stroke-width="0.9"/>
<polygon points="38.5,198.58 40.42,200.5 38.5,202.42 36.58,200.5" fill="#777"/>
<text x="44.5" y="202.84" font-size="6.5" text-anchor="start" fill="#333" stroke="#333" stroke-width="0.13">Hx-heme</text>
<line x1="35.5" y1="207" x2="41.5" y2="207" stroke="#999" stroke-width="0.9"/>
<polygon points="38.5,205.08 40.42,207 38.5,208.92 36.58,207" fill="#999"/>
<text x="44.5" y="209.34" font-size="6.5" text-anchor="start" fill="#333" stroke="#333" stroke-width="0.13">MSA-heme</text>
<line x1="35.5" y1="213.2" x2="41.5" y2="213.2" stroke="#222" stroke-width="0.9"/>
<polygon points="38.5,211.28 40.42,213.2 38.5,215.11999999999998 36.58,213.2" fill="#222"/>
<text x="44.5" y="215.54" font-size="6.5" text-anchor="start" fill="#333" stroke="#333" stroke-width="0.13">HSA-heme</text>
<line x1="35.5" y1="220.3" x2="41.5" y2="220.3" stroke="#111" stroke-width="0.9"/>
<circle cx="38.5" cy="220.3" r="1.6" fill="#111"/>
<text x="44.5" y="222.64" font-size="6.5" text-anchor="start" fill="#333" stroke="#333" stroke-width="0.13">heme</text>
<text x="27.6" y="379.7" font-size="6.9" text-anchor="start" fill="#222" stroke="#222" stroke-width="0.13" textLength="92.2" lengthAdjust="spacingAndGlyphs">NT 0h vs HSA-heme 4/15h</text>
<text x="27.6" y="386.2" font-size="6.9" text-anchor="start" fill="#222" stroke="#222" stroke-width="0.13" textLength="81.2" lengthAdjust="spacingAndGlyphs">NT 0h vs HSA-heme 6h</text>
<text x="27.6" y="392.4" font-size="6.9" text-anchor="start" fill="#222" stroke="#222" stroke-width="0.13" textLength="99.3" lengthAdjust="spacingAndGlyphs">NT 0h vs MSA-heme 4/6/15h</text>
<text x="133.1" y="379.7" font-size="6.9" text-anchor="start" fill="#222" stroke="#222" stroke-width="0.13" textLength="26.6" lengthAdjust="spacingAndGlyphs">*P&lt;0.05</text>
<text x="133.1" y="386.2" font-size="6.9" text-anchor="start" fill="#222" stroke="#222" stroke-width="0.13" textLength="26.6" lengthAdjust="spacingAndGlyphs">*P&lt;0.05</text>
<text x="129.5" y="392.4" font-size="6.9" text-anchor="start" fill="#222" stroke="#222" stroke-width="0.13" textLength="29" lengthAdjust="spacingAndGlyphs">**P&lt;0.01</text>
<text x="182.8" y="185.5" font-size="14" font-weight="bold" text-anchor="start" fill="#111" stroke="#111" stroke-width="0.22">D</text>
<text x="239.2" y="189" font-size="10.4" font-weight="bold" text-anchor="start" fill="#111" stroke="#111" stroke-width="0.22" textLength="64" lengthAdjust="spacingAndGlyphs">HO-1 protein</text>
<line x1="221.5" y1="214.6" x2="275.9" y2="214.6" stroke="#333" stroke-width="1.1"/>
<text x="245.8" y="211.8" font-size="7.6" font-weight="bold" text-anchor="middle" fill="#111" stroke="#111" stroke-width="0.22">6h</text>
<line x1="278.7" y1="214.6" x2="333" y2="214.6" stroke="#333" stroke-width="1.1"/>
<text x="304.5" y="211.8" font-size="7.6" font-weight="bold" text-anchor="middle" fill="#111" stroke="#111" stroke-width="0.22">10h</text>
<text x="207.9" y="223.6" font-size="7.8" font-weight="bold" text-anchor="middle" fill="#111" stroke="#111" stroke-width="0.22">NT</text>
<text x="227" y="223.6" font-size="7.8" font-weight="bold" text-anchor="middle" fill="#111" stroke="#111" stroke-width="0.22">Hx</text>
<text x="245.5" y="223.6" font-size="7.8" font-weight="bold" text-anchor="middle" fill="#111" stroke="#111" stroke-width="0.22">MSA</text>
<text x="266.1" y="223.6" font-size="7.8" font-weight="bold" text-anchor="middle" fill="#111" stroke="#111" stroke-width="0.22">heme</text>
<text x="283.7" y="223.6" font-size="7.8" font-weight="bold" text-anchor="middle" fill="#111" stroke="#111" stroke-width="0.22">Hx</text>
<text x="301.5" y="223.6" font-size="7.8" font-weight="bold" text-anchor="middle" fill="#111" stroke="#111" stroke-width="0.22">MSA</text>
<text x="324.7" y="223.6" font-size="7.8" font-weight="bold" text-anchor="middle" fill="#111" stroke="#111" stroke-width="0.22">heme</text>
<rect x="198.3" y="227.8" width="136.09999999999997" height="12.0" fill="#e2e2e2"/>
<rect x="200.5" y="231.30" width="12" height="3.00" rx="1.50" fill="#d0d0d0" filter="url(#bl)"/>
<rect x="220.5" y="230.80" width="15" height="4.00" rx="2.00" fill="#9a9a9a" filter="url(#bl)"/>
<rect x="238.5" y="230.55" width="17" height="4.50" rx="2.25" fill="#383838" filter="url(#bl)"/>
<rect x="257.5" y="230.55" width="17" height="4.50" rx="2.25" fill="#404040" filter="url(#bl)"/>
<rect x="278.5" y="231.05" width="13" height="3.50" rx="1.75" fill="#acacac" filter="url(#bl)"/>
<rect x="295.5" y="230.55" width="17" height="4.50" rx="2.25" fill="#3a3a3a" filter="url(#bl)"/>
<rect x="315.5" y="230.05" width="17" height="5.50" rx="2.75" fill="#262626" filter="url(#bl)"/>
<rect x="198.3" y="241" width="136.09999999999997" height="9.199999999999989" fill="#e8e8e8"/>
<rect x="199.5" y="245.00" width="17" height="2.80" rx="1.40" fill="#3e3e3e" filter="url(#bl)"/>
<rect x="218.5" y="245.00" width="18" height="2.80" rx="1.40" fill="#383838" filter="url(#bl)"/>
<rect x="237.5" y="245.00" width="18" height="2.80" rx="1.40" fill="#444" filter="url(#bl)"/>
<rect x="256.5" y="245.00" width="18" height="2.80" rx="1.40" fill="#444" filter="url(#bl)"/>
<rect x="276.5" y="245.00" width="16" height="2.80" rx="1.40" fill="#383838" filter="url(#bl)"/>
<rect x="294.5" y="245.00" width="18" height="2.80" rx="1.40" fill="#444" filter="url(#bl)"/>
<rect x="313.5" y="245.00" width="20" height="2.80" rx="1.40" fill="#444" filter="url(#bl)"/>
<text x="173.5" y="237.8" font-size="10.2" font-weight="bold" text-anchor="start" fill="#111" stroke="#111" stroke-width="0.22" textLength="23.8" lengthAdjust="spacingAndGlyphs">HO-1</text>
<text x="171" y="251.2" font-size="10.2" font-weight="bold" text-anchor="start" fill="#111" stroke="#111" stroke-width="0.22" textLength="26.4" lengthAdjust="spacingAndGlyphs">Actin</text>
<line x1="198.6" y1="265.2" x2="198.6" y2="351.9" stroke="#111" stroke-width="1.3"/>
<line x1="196.6" y1="265.2" x2="198.6" y2="265.2" stroke="#111" stroke-width="1.3"/>
<text x="196.29999999999998" y="267.14" font-size="5.4" font-weight="bold" text-anchor="end" fill="#333" stroke="#333" stroke-width="0.22" textLength="5.8" lengthAdjust="spacingAndGlyphs">30</text>
<line x1="196.6" y1="279.65" x2="198.6" y2="279.65" stroke="#111" stroke-width="1.3"/>
<text x="196.29999999999998" y="281.59" font-size="5.4" font-weight="bold" text-anchor="end" fill="#333" stroke="#333" stroke-width="0.22" textLength="5.8" lengthAdjust="spacingAndGlyphs">25</text>
<line x1="196.6" y1="294.09999999999997" x2="198.6" y2="294.09999999999997" stroke="#111" stroke-width="1.3"/>
<text x="196.29999999999998" y="296.04" font-size="5.4" font-weight="bold" text-anchor="end" fill="#333" stroke="#333" stroke-width="0.22" textLength="5.8" lengthAdjust="spacingAndGlyphs">20</text>
<line x1="196.6" y1="308.54999999999995" x2="198.6" y2="308.54999999999995" stroke="#111" stroke-width="1.3"/>
<text x="196.29999999999998" y="310.49" font-size="5.4" font-weight="bold" text-anchor="end" fill="#333" stroke="#333" stroke-width="0.22" textLength="5.8" lengthAdjust="spacingAndGlyphs">15</text>
<line x1="196.6" y1="323.0" x2="198.6" y2="323.0" stroke="#111" stroke-width="1.3"/>
<text x="196.29999999999998" y="324.94" font-size="5.4" font-weight="bold" text-anchor="end" fill="#333" stroke="#333" stroke-width="0.22" textLength="5.8" lengthAdjust="spacingAndGlyphs">10</text>
<line x1="196.6" y1="337.45" x2="198.6" y2="337.45" stroke="#111" stroke-width="1.3"/>
<text x="196.29999999999998" y="339.39" font-size="5.4" font-weight="bold" text-anchor="end" fill="#333" stroke="#333" stroke-width="0.22" textLength="2.9" lengthAdjust="spacingAndGlyphs">5</text>
<line x1="196.6" y1="351.9" x2="198.6" y2="351.9" stroke="#111" stroke-width="1.3"/>
<text x="196.29999999999998" y="353.84" font-size="5.4" font-weight="bold" text-anchor="end" fill="#333" stroke="#333" stroke-width="0.22" textLength="2.9" lengthAdjust="spacingAndGlyphs">0</text>
<line x1="198.6" y1="351.9" x2="340" y2="351.9" stroke="#111" stroke-width="1.3"/>
<text x="187.9" y="306.7" font-size="11.5" font-weight="bold" text-anchor="middle" fill="#111" stroke="#111" stroke-width="0.22" textLength="13.8" lengthAdjust="spacingAndGlyphs" transform="rotate(-90 187.9 306.7)">AU</text>
<rect x="202.65" y="349.65999999999997" width="13.600000000000005" height="2.2399999999999864" fill="#fff" stroke="#111" stroke-width="1.3"/>
<rect x="225.65" y="340.98999999999995" width="12.50000000000001" height="10.910000000000002" fill="#a9a9a9" stroke="#111" stroke-width="1.3"/>
<line x1="231.9" y1="340.34" x2="231.9" y2="338.895" stroke="#222" stroke-width="1.0"/>
<line x1="229.14000000000001" y1="338.895" x2="234.66" y2="338.895" stroke="#222" stroke-width="1.0"/>
<rect x="243.15" y="295.90599999999995" width="12.599999999999977" height="55.99400000000001" fill="#626262" stroke="#111" stroke-width="1.3"/>
<line x1="249.45" y1="295.256" x2="249.45" y2="288.32" stroke="#222" stroke-width="1.0"/>
<line x1="246.67" y1="288.32" x2="252.23" y2="288.32" stroke="#222" stroke-width="1.0"/>
<rect x="260.15" y="301.6859999999999" width="13.399999999999988" height="50.214000000000034" fill="#1c1c1c" stroke="#111" stroke-width="1.3"/>
<line x1="266.85" y1="301.03599999999994" x2="266.85" y2="294.09999999999997" stroke="#222" stroke-width="1.0"/>
<line x1="263.91" y1="294.09999999999997" x2="269.79" y2="294.09999999999997" stroke="#222" stroke-width="1.0"/>
<rect x="282.54999999999995" y="338.09999999999997" width="12.600000000000033" height="13.799999999999988" fill="#a9a9a9" stroke="#111" stroke-width="1.3"/>
<line x1="288.85" y1="337.45" x2="288.85" y2="335.138" stroke="#222" stroke-width="1.0"/>
<line x1="286.07" y1="335.138" x2="291.63000000000005" y2="335.138" stroke="#222" stroke-width="1.0"/>
<rect x="300.15" y="302.55299999999994" width="12.800000000000022" height="49.347000000000016" fill="#626262" stroke="#111" stroke-width="1.3"/>
<line x1="306.55" y1="301.90299999999996" x2="306.55" y2="296.98999999999995" stroke="#222" stroke-width="1.0"/>
<line x1="303.73" y1="296.98999999999995" x2="309.37" y2="296.98999999999995" stroke="#222" stroke-width="1.0"/>
<rect x="317.34999999999997" y="286.65799999999996" width="13.2" height="65.24199999999999" fill="#1c1c1c" stroke="#111" stroke-width="1.3"/>
<line x1="323.95" y1="286.008" x2="323.95" y2="275.02599999999995" stroke="#222" stroke-width="1.0"/>
<line x1="321.05" y1="275.02599999999995" x2="326.84999999999997" y2="275.02599999999995" stroke="#222" stroke-width="1.0"/>
<line x1="232.8" y1="285.5" x2="249.5" y2="285.5" stroke="#222" stroke-width="1.2"/>
<polygon points="236.88,278.40 237.77,280.19 239.74,280.47 238.31,281.86 238.65,283.83 236.88,282.90 235.12,283.83 235.46,281.86 234.03,280.47 236.00,280.19" fill="#222"/>
<polygon points="242.25,278.40 243.13,280.19 245.10,280.47 243.68,281.86 244.01,283.83 242.25,282.90 240.49,283.83 240.82,281.86 239.40,280.47 241.37,280.19" fill="#222"/>
<polygon points="247.62,278.40 248.50,280.19 250.47,280.47 249.04,281.86 249.38,283.83 247.62,282.90 245.85,283.83 246.19,281.86 244.76,280.47 246.73,280.19" fill="#222"/>
<line x1="290.4" y1="293.7" x2="305.1" y2="293.7" stroke="#222" stroke-width="1.2"/>
<polygon points="292.98,286.90 293.87,288.69 295.84,288.97 294.41,290.36 294.75,292.33 292.98,291.40 291.22,292.33 291.56,290.36 290.13,288.97 292.10,288.69" fill="#222"/>
<polygon points="298.15,286.90 299.03,288.69 301.00,288.97 299.58,290.36 299.91,292.33 298.15,291.40 296.39,292.33 296.72,290.36 295.30,288.97 297.27,288.69" fill="#222"/>
<polygon points="303.32,286.90 304.20,288.69 306.17,288.97 304.74,290.36 305.08,292.33 303.32,291.40 301.55,292.33 301.89,290.36 300.46,288.97 302.43,288.69" fill="#222"/>
<text x="209.4" y="359.8" font-size="7.25" font-weight="bold" text-anchor="middle" fill="#111" stroke="#111" stroke-width="0.22">NT</text>
<text x="232.4" y="359.8" font-size="7.25" font-weight="bold" text-anchor="middle" fill="#111" stroke="#111" stroke-width="0.22">Hx</text>
<text x="249.7" y="359.8" font-size="7.25" font-weight="bold" text-anchor="middle" fill="#111" stroke="#111" stroke-width="0.22">MSA</text>
<text x="268.5" y="359.8" font-size="7.25" font-weight="bold" text-anchor="middle" fill="#111" stroke="#111" stroke-width="0.22">heme</text>
<text x="291.9" y="359.8" font-size="7.25" font-weight="bold" text-anchor="middle" fill="#111" stroke="#111" stroke-width="0.22">Hx</text>
<text x="307.5" y="359.8" font-size="7.25" font-weight="bold" text-anchor="middle" fill="#111" stroke="#111" stroke-width="0.22">MSA</text>
<text x="328.5" y="359.8" font-size="7.25" font-weight="bold" text-anchor="middle" fill="#111" stroke="#111" stroke-width="0.22">heme</text>
<line x1="226" y1="362" x2="272.9" y2="362" stroke="#333" stroke-width="1.1"/>
<text x="248.9" y="369.8" font-size="7.6" font-weight="bold" text-anchor="middle" fill="#111" stroke="#111" stroke-width="0.22">6h</text>
<line x1="283.1" y1="362" x2="331.3" y2="362" stroke="#333" stroke-width="1.1"/>
<text x="307.8" y="370" font-size="7.6" font-weight="bold" text-anchor="middle" fill="#111" stroke="#111" stroke-width="0.22">10h</text>
<text x="199.3" y="379.7" font-size="7" text-anchor="start" fill="#222" stroke="#222" stroke-width="0.13" textLength="73.9" lengthAdjust="spacingAndGlyphs">NT vs Hx-heme 6/10h</text>
<text x="199.3" y="385.9" font-size="7" text-anchor="start" fill="#222" stroke="#222" stroke-width="0.13" textLength="82.4" lengthAdjust="spacingAndGlyphs">NT vs MSA-heme 6/10h</text>
<text x="292.7" y="379.7" font-size="7" text-anchor="start" fill="#222" stroke="#222" stroke-width="0.13" textLength="24" lengthAdjust="spacingAndGlyphs">*P&lt;0.05</text>
<text x="283.9" y="385.9" font-size="7" text-anchor="start" fill="#222" stroke="#222" stroke-width="0.13" textLength="36.4" lengthAdjust="spacingAndGlyphs">***P&lt;0.001</text>
<text x="355.6" y="185.5" font-size="14" font-weight="bold" text-anchor="start" fill="#111" stroke="#111" stroke-width="0.22">E</text>
<text x="405.8" y="187.5" font-size="10.4" font-weight="bold" text-anchor="start" fill="#111" stroke="#111" stroke-width="0.22" textLength="85" lengthAdjust="spacingAndGlyphs">H-Ferritin protein</text>
<line x1="400.4" y1="215" x2="454" y2="215" stroke="#333" stroke-width="1.1"/>
<text x="424.6" y="211.6" font-size="7.6" font-weight="bold" text-anchor="middle" fill="#111" stroke="#111" stroke-width="0.22">6h</text>
<line x1="458.5" y1="215" x2="511.5" y2="215" stroke="#333" stroke-width="1.1"/>
<text x="483.5" y="211.6" font-size="7.6" font-weight="bold" text-anchor="middle" fill="#111" stroke="#111" stroke-width="0.22">10h</text>
<text x="387.3" y="223.7" font-size="7.8" font-weight="bold" text-anchor="middle" fill="#111" stroke="#111" stroke-width="0.22">NT</text>
<text x="406.5" y="223.7" font-size="7.8" font-weight="bold" text-anchor="middle" fill="#111" stroke="#111" stroke-width="0.22">Hx</text>
<text x="425" y="223.7" font-size="7.8" font-weight="bold" text-anchor="middle" fill="#111" stroke="#111" stroke-width="0.22">MSA</text>
<text x="445.8" y="223.7" font-size="7.8" font-weight="bold" text-anchor="middle" fill="#111" stroke="#111" stroke-width="0.22">heme</text>
<text x="463.6" y="223.7" font-size="7.8" font-weight="bold" text-anchor="middle" fill="#111" stroke="#111" stroke-width="0.22">Hx</text>
<text x="481.5" y="223.7" font-size="7.8" font-weight="bold" text-anchor="middle" fill="#111" stroke="#111" stroke-width="0.22">MSA</text>
<text x="505" y="223.7" font-size="7.8" font-weight="bold" text-anchor="middle" fill="#111" stroke="#111" stroke-width="0.22">heme</text>
<rect x="377" y="227.6" width="137.39999999999998" height="13.400000000000006" fill="#e4e4e4"/>
<rect x="378.5" y="233.00" width="16" height="3.00" rx="1.50" fill="#d0d0d0" filter="url(#bl)"/>
<rect x="395.5" y="232.25" width="19" height="4.50" rx="2.25" fill="#7a7a7a" filter="url(#bl)"/>
<rect x="416.5" y="232.50" width="20" height="4.00" rx="2.00" fill="#242424" filter="url(#bl)"/>
<rect x="436.5" y="232.40" width="19" height="4.20" rx="2.10" fill="#4a4a4a" filter="url(#bl)"/>
<rect x="456.5" y="232.70" width="17" height="3.60" rx="1.80" fill="#969696" filter="url(#bl)"/>
<rect x="475.5" y="232.30" width="19" height="4.40" rx="2.20" fill="#1c1c1c" filter="url(#bl)"/>
<rect x="494.5" y="232.30" width="19" height="4.40" rx="2.20" fill="#262626" filter="url(#bl)"/>
<rect x="377" y="243.8" width="137.39999999999998" height="8.899999999999977" fill="#e8e8e8"/>
<rect x="377.5" y="246.90" width="19" height="3.00" rx="1.50" fill="#3e3e3e" filter="url(#bl)"/>
<rect x="396.5" y="246.80" width="19" height="3.20" rx="1.60" fill="#383838" filter="url(#bl)"/>
<rect x="416.5" y="246.90" width="20" height="3.00" rx="1.50" fill="#404040" filter="url(#bl)"/>
<rect x="436.5" y="246.90" width="19" height="3.00" rx="1.50" fill="#404040" filter="url(#bl)"/>
<rect x="456.5" y="246.90" width="18" height="3.00" rx="1.50" fill="#3a3a3a" filter="url(#bl)"/>
<rect x="475.5" y="246.90" width="19" height="3.00" rx="1.50" fill="#404040" filter="url(#bl)"/>
<rect x="494.5" y="246.90" width="19" height="3.00" rx="1.50" fill="#404040" filter="url(#bl)"/>
<text x="348.1" y="239.1" font-size="10" font-weight="bold" text-anchor="start" fill="#111" stroke="#111" stroke-width="0.22" textLength="21.2" lengthAdjust="spacingAndGlyphs">H-Ft</text>
<text x="343.7" y="253.2" font-size="10" font-weight="bold" text-anchor="start" fill="#111" stroke="#111" stroke-width="0.22" textLength="26.2" lengthAdjust="spacingAndGlyphs">Actin</text>
<line x1="375" y1="272.3" x2="375" y2="351.4" stroke="#111" stroke-width="1.3"/>
<line x1="373" y1="272.29999999999995" x2="375" y2="272.29999999999995" stroke="#111" stroke-width="1.3"/>
<text x="372.7" y="274.24" font-size="5.4" font-weight="bold" text-anchor="end" fill="#333" stroke="#333" stroke-width="0.22" textLength="2.9" lengthAdjust="spacingAndGlyphs">5</text>
<line x1="373" y1="288.12" x2="375" y2="288.12" stroke="#111" stroke-width="1.3"/>
<text x="372.7" y="290.06" font-size="5.4" font-weight="bold" text-anchor="end" fill="#333" stroke="#333" stroke-width="0.22" textLength="2.9" lengthAdjust="spacingAndGlyphs">4</text>
<line x1="373" y1="303.94" x2="375" y2="303.94" stroke="#111" stroke-width="1.3"/>
<text x="372.7" y="305.88" font-size="5.4" font-weight="bold" text-anchor="end" fill="#333" stroke="#333" stroke-width="0.22" textLength="2.9" lengthAdjust="spacingAndGlyphs">3</text>
<line x1="373" y1="319.76" x2="375" y2="319.76" stroke="#111" stroke-width="1.3"/>
<text x="372.7" y="321.7" font-size="5.4" font-weight="bold" text-anchor="end" fill="#333" stroke="#333" stroke-width="0.22" textLength="2.9" lengthAdjust="spacingAndGlyphs">2</text>
<line x1="373" y1="335.58" x2="375" y2="335.58" stroke="#111" stroke-width="1.3"/>
<text x="372.7" y="337.52" font-size="5.4" font-weight="bold" text-anchor="end" fill="#333" stroke="#333" stroke-width="0.22" textLength="2.9" lengthAdjust="spacingAndGlyphs">1</text>
<line x1="373" y1="351.4" x2="375" y2="351.4" stroke="#111" stroke-width="1.3"/>
<text x="372.7" y="353.34" font-size="5.4" font-weight="bold" text-anchor="end" fill="#333" stroke="#333" stroke-width="0.22" textLength="2.9" lengthAdjust="spacingAndGlyphs">0</text>
<line x1="375" y1="351.4" x2="513" y2="351.4" stroke="#111" stroke-width="1.3"/>
<text x="367.9" y="310.4" font-size="11.5" font-weight="bold" text-anchor="middle" fill="#111" stroke="#111" stroke-width="0.22" textLength="13.8" lengthAdjust="spacingAndGlyphs" transform="rotate(-90 367.9 310.4)">AU</text>
<rect x="379.65" y="336.22999999999996" width="13.2" height="15.169999999999993" fill="#fff" stroke="#111" stroke-width="1.3"/>
<rect x="402.65" y="324.83959999999996" width="13.599999999999977" height="26.560399999999994" fill="#a9a9a9" stroke="#111" stroke-width="1.3"/>
<line x1="409.45" y1="324.1896" x2="409.45" y2="321.342" stroke="#222" stroke-width="1.0"/>
<line x1="406.46999999999997" y1="321.342" x2="412.43" y2="321.342" stroke="#222" stroke-width="1.0"/>
<rect x="420.25" y="295.88899999999995" width="12.899999999999988" height="55.511" fill="#626262" stroke="#111" stroke-width="1.3"/>
<line x1="426.70000000000005" y1="295.239" x2="426.70000000000005" y2="288.12" stroke="#222" stroke-width="1.0"/>
<line x1="423.86000000000007" y1="288.12" x2="429.54" y2="288.12" stroke="#222" stroke-width="1.0"/>
<rect x="437.15" y="295.88899999999995" width="13.2" height="55.511" fill="#1c1c1c" stroke="#111" stroke-width="1.3"/>
<line x1="443.75" y1="295.239" x2="443.75" y2="284.95599999999996" stroke="#222" stroke-width="1.0"/>
<line x1="440.85" y1="284.95599999999996" x2="446.65" y2="284.95599999999996" stroke="#222" stroke-width="1.0"/>
<rect x="460.25" y="333.066" width="12.599999999999977" height="18.333999999999982" fill="#a9a9a9" stroke="#111" stroke-width="1.3"/>
<line x1="466.55" y1="332.416" x2="466.55" y2="329.5684" stroke="#222" stroke-width="1.0"/>
<line x1="463.77000000000004" y1="329.5684" x2="469.33" y2="329.5684" stroke="#222" stroke-width="1.0"/>
<rect x="476.84999999999997" y="285.60599999999994" width="13.7" height="65.79400000000001" fill="#626262" stroke="#111" stroke-width="1.3"/>
<line x1="483.7" y1="284.95599999999996" x2="483.7" y2="276.255" stroke="#222" stroke-width="1.0"/>
<line x1="480.7" y1="276.255" x2="486.7" y2="276.255" stroke="#222" stroke-width="1.0"/>
<rect x="494.15" y="302.69159999999994" width="13.099999999999977" height="48.70840000000002" fill="#1c1c1c" stroke="#111" stroke-width="1.3"/>
<line x1="500.7" y1="302.04159999999996" x2="500.7" y2="296.03" stroke="#222" stroke-width="1.0"/>
<line x1="497.82" y1="296.03" x2="503.58" y2="296.03" stroke="#222" stroke-width="1.0"/>
<line x1="408.3" y1="285.4" x2="426.8" y2="285.4" stroke="#222" stroke-width="1.2"/>
<polygon points="415.07,278.00 415.96,279.79 417.93,280.07 416.50,281.46 416.84,283.43 415.07,282.50 413.31,283.43 413.65,281.46 412.22,280.07 414.19,279.79" fill="#222"/>
<polygon points="420.23,278.00 421.11,279.79 423.08,280.07 421.65,281.46 421.99,283.43 420.23,282.50 418.46,283.43 418.80,281.46 417.37,280.07 419.34,279.79" fill="#222"/>
<line x1="461.4" y1="274.5" x2="484.8" y2="274.5" stroke="#222" stroke-width="1.2"/>
<polygon points="468.00,267.10 468.88,268.89 470.85,269.17 469.43,270.56 469.76,272.53 468.00,271.60 466.24,272.53 466.57,270.56 465.15,269.17 467.12,268.89" fill="#222"/>
<polygon points="473.20,267.10 474.08,268.89 476.05,269.17 474.63,270.56 474.96,272.53 473.20,271.60 471.44,272.53 471.77,270.56 470.35,269.17 472.32,268.89" fill="#222"/>
<polygon points="478.40,267.10 479.28,268.89 481.25,269.17 479.83,270.56 480.16,272.53 478.40,271.60 476.64,272.53 476.97,270.56 475.55,269.17 477.52,268.89" fill="#222"/>
<text x="386.6" y="360.1" font-size="7.25" font-weight="bold" text-anchor="middle" fill="#111" stroke="#111" stroke-width="0.22">NT</text>
<text x="407.9" y="360.1" font-size="7.25" font-weight="bold" text-anchor="middle" fill="#111" stroke="#111" stroke-width="0.22">Hx</text>
<text x="427.3" y="360.1" font-size="7.25" font-weight="bold" text-anchor="middle" fill="#111" stroke="#111" stroke-width="0.22">MSA</text>
<text x="447.5" y="360.1" font-size="7.25" font-weight="bold" text-anchor="middle" fill="#111" stroke="#111" stroke-width="0.22">heme</text>
<text x="469" y="360.1" font-size="7.25" font-weight="bold" text-anchor="middle" fill="#111" stroke="#111" stroke-width="0.22">Hx</text>
<text x="484.8" y="360.1" font-size="7.25" font-weight="bold" text-anchor="middle" fill="#111" stroke="#111" stroke-width="0.22">MSA</text>
<text x="505.4" y="360.1" font-size="7.25" font-weight="bold" text-anchor="middle" fill="#111" stroke="#111" stroke-width="0.22">heme</text>
<line x1="402.8" y1="362" x2="449.9" y2="362" stroke="#333" stroke-width="1.1"/>
<text x="426.3" y="369.7" font-size="7.6" font-weight="bold" text-anchor="middle" fill="#111" stroke="#111" stroke-width="0.22">6h</text>
<line x1="461" y1="362" x2="507.5" y2="362" stroke="#333" stroke-width="1.1"/>
<text x="484.8" y="369.7" font-size="7.6" font-weight="bold" text-anchor="middle" fill="#111" stroke="#111" stroke-width="0.22">10h</text>
<text x="379" y="378.8" font-size="7" text-anchor="start" fill="#222" stroke="#222" stroke-width="0.13" textLength="81" lengthAdjust="spacingAndGlyphs">NT vs MSA-heme 6/10h</text>
<text x="463.2" y="378.8" font-size="7" text-anchor="start" fill="#222" stroke="#222" stroke-width="0.13" textLength="36.6" lengthAdjust="spacingAndGlyphs">***P&lt;0.001</text>
<text x="5.9" y="406.1" font-size="14" font-weight="bold" text-anchor="start" fill="#111" stroke="#111" stroke-width="0.22">F</text>
<text x="55.4" y="408" font-size="10.4" font-weight="bold" text-anchor="start" fill="#111" stroke="#111" stroke-width="0.22" textLength="83.7" lengthAdjust="spacingAndGlyphs">L-Ferritin protein</text>
<line x1="57.4" y1="426.9" x2="110.4" y2="426.9" stroke="#333" stroke-width="1.1"/>
<text x="81.2" y="423.5" font-size="7.6" font-weight="bold" text-anchor="middle" fill="#111" stroke="#111" stroke-width="0.22">6h</text>
<line x1="115" y1="426.9" x2="168.1" y2="426.9" stroke="#333" stroke-width="1.1"/>
<text x="140" y="423.5" font-size="7.6" font-weight="bold" text-anchor="middle" fill="#111" stroke="#111" stroke-width="0.22">10h</text>
<text x="43.3" y="436.9" font-size="7.8" font-weight="bold" text-anchor="middle" fill="#111" stroke="#111" stroke-width="0.22">NT</text>
<text x="62.7" y="436.9" font-size="7.8" font-weight="bold" text-anchor="middle" fill="#111" stroke="#111" stroke-width="0.22">Hx</text>
<text x="81.2" y="436.9" font-size="7.8" font-weight="bold" text-anchor="middle" fill="#111" stroke="#111" stroke-width="0.22">MSA</text>
<text x="101.5" y="436.9" font-size="7.8" font-weight="bold" text-anchor="middle" fill="#111" stroke="#111" stroke-width="0.22">heme</text>
<text x="119.4" y="436.9" font-size="7.8" font-weight="bold" text-anchor="middle" fill="#111" stroke="#111" stroke-width="0.22">Hx</text>
<text x="137.3" y="436.9" font-size="7.8" font-weight="bold" text-anchor="middle" fill="#111" stroke="#111" stroke-width="0.22">MSA</text>
<text x="161.2" y="436.9" font-size="7.8" font-weight="bold" text-anchor="middle" fill="#111" stroke="#111" stroke-width="0.22">heme</text>
<rect x="30.5" y="440.2" width="138.9" height="13.300000000000011" fill="#e4e4e4"/>
<rect x="31.5" y="445.00" width="19" height="3.20" rx="1.60" fill="#484848" filter="url(#bl)"/>
<rect x="51.5" y="445.00" width="17" height="3.20" rx="1.60" fill="#5a5a5a" filter="url(#bl)"/>
<rect x="71.5" y="444.60" width="20" height="4.00" rx="2.00" fill="#222" filter="url(#bl)"/>
<rect x="91.5" y="444.70" width="17" height="3.80" rx="1.90" fill="#363636" filter="url(#bl)"/>
<rect x="109.5" y="444.80" width="19" height="3.60" rx="1.80" fill="#404040" filter="url(#bl)"/>
<rect x="129.5" y="443.90" width="21" height="5.40" rx="2.70" fill="#0c0c0c" filter="url(#bl)"/>
<rect x="149.5" y="444.50" width="19" height="4.20" rx="2.10" fill="#2e2e2e" filter="url(#bl)"/>
<rect x="30.5" y="455.5" width="138.9" height="8.699999999999989" fill="#e8e8e8"/>
<rect x="31.5" y="458.40" width="20" height="2.80" rx="1.40" fill="#404040" filter="url(#bl)"/>
<rect x="51.5" y="458.40" width="18" height="2.80" rx="1.40" fill="#3c3c3c" filter="url(#bl)"/>
<rect x="71.5" y="458.40" width="19" height="2.80" rx="1.40" fill="#404040" filter="url(#bl)"/>
<rect x="90.5" y="458.40" width="18" height="2.80" rx="1.40" fill="#3c3c3c" filter="url(#bl)"/>
<rect x="109.5" y="458.40" width="18" height="2.80" rx="1.40" fill="#3c3c3c" filter="url(#bl)"/>
<rect x="129.5" y="458.40" width="20" height="2.80" rx="1.40" fill="#444" filter="url(#bl)"/>
<rect x="149.5" y="458.40" width="19" height="2.80" rx="1.40" fill="#444" filter="url(#bl)"/>
<text x="7.4" y="452.2" font-size="10.2" font-weight="bold" text-anchor="start" fill="#111" stroke="#111" stroke-width="0.22" textLength="19.8" lengthAdjust="spacingAndGlyphs">L-Ft</text>
<text x="0.7" y="464.8" font-size="10.2" font-weight="bold" text-anchor="start" fill="#111" stroke="#111" stroke-width="0.22" textLength="27" lengthAdjust="spacingAndGlyphs">Actin</text>
<line x1="29.4" y1="483.8" x2="29.4" y2="564.5" stroke="#111" stroke-width="1.3"/>
<line x1="27.4" y1="483.8" x2="29.4" y2="483.8" stroke="#111" stroke-width="1.3"/>
<text x="27.099999999999998" y="485.74" font-size="5.4" font-weight="bold" text-anchor="end" fill="#333" stroke="#333" stroke-width="0.22" textLength="2.9" lengthAdjust="spacingAndGlyphs">3</text>
<line x1="27.4" y1="510.7" x2="29.4" y2="510.7" stroke="#111" stroke-width="1.3"/>
<text x="27.099999999999998" y="512.64" font-size="5.4" font-weight="bold" text-anchor="end" fill="#333" stroke="#333" stroke-width="0.22" textLength="2.9" lengthAdjust="spacingAndGlyphs">2</text>
<line x1="27.4" y1="537.6" x2="29.4" y2="537.6" stroke="#111" stroke-width="1.3"/>
<text x="27.099999999999998" y="539.54" font-size="5.4" font-weight="bold" text-anchor="end" fill="#333" stroke="#333" stroke-width="0.22" textLength="2.9" lengthAdjust="spacingAndGlyphs">1</text>
<line x1="27.4" y1="564.5" x2="29.4" y2="564.5" stroke="#111" stroke-width="1.3"/>
<text x="27.099999999999998" y="566.44" font-size="5.4" font-weight="bold" text-anchor="end" fill="#333" stroke="#333" stroke-width="0.22" textLength="2.9" lengthAdjust="spacingAndGlyphs">0</text>
<line x1="29.4" y1="564.5" x2="169.6" y2="564.5" stroke="#111" stroke-width="1.3"/>
<text x="21.5" y="521.6" font-size="10.6" font-weight="bold" text-anchor="middle" fill="#111" stroke="#111" stroke-width="0.22" textLength="13.6" lengthAdjust="spacingAndGlyphs" transform="rotate(-90 21.5 521.6)">AU</text>
<rect x="33.55" y="538.25" width="12.500000000000004" height="26.24999999999998" fill="#fff" stroke="#111" stroke-width="1.3"/>
<rect x="57.75" y="542.823" width="12.599999999999998" height="21.677" fill="#a9a9a9" stroke="#111" stroke-width="1.3"/>
<line x1="64.05" y1="542.173" x2="64.05" y2="540.828" stroke="#222" stroke-width="1.0"/>
<line x1="61.269999999999996" y1="540.828" x2="66.83" y2="540.828" stroke="#222" stroke-width="1.0"/>
<rect x="75.05000000000001" y="520.496" width="12.59999999999999" height="44.004" fill="#626262" stroke="#111" stroke-width="1.3"/>
<line x1="81.35" y1="519.846" x2="81.35" y2="518.77" stroke="#222" stroke-width="1.0"/>
<line x1="78.57" y1="518.77" x2="84.13" y2="518.77" stroke="#222" stroke-width="1.0"/>
<rect x="91.35000000000001" y="530.18" width="12.900000000000002" height="34.32000000000003" fill="#1c1c1c" stroke="#111" stroke-width="1.3"/>
<line x1="97.80000000000001" y1="529.53" x2="97.80000000000001" y2="527.647" stroke="#222" stroke-width="1.0"/>
<line x1="94.96000000000001" y1="527.647" x2="100.64000000000001" y2="527.647" stroke="#222" stroke-width="1.0"/>
<rect x="115.95" y="536.636" width="12.499999999999996" height="27.86400000000001" fill="#a9a9a9" stroke="#111" stroke-width="1.3"/>
<line x1="122.19999999999999" y1="535.986" x2="122.19999999999999" y2="535.717" stroke="#222" stroke-width="1.0"/>
<line x1="119.43999999999998" y1="535.717" x2="124.96" y2="535.717" stroke="#222" stroke-width="1.0"/>
<rect x="132.85" y="498.438" width="12.600000000000005" height="66.06199999999998" fill="#626262" stroke="#111" stroke-width="1.3"/>
<line x1="139.14999999999998" y1="497.788" x2="139.14999999999998" y2="496.981" stroke="#222" stroke-width="1.0"/>
<line x1="136.36999999999998" y1="496.981" x2="141.92999999999998" y2="496.981" stroke="#222" stroke-width="1.0"/>
<rect x="149.45000000000002" y="523.186" width="12.599999999999977" height="41.31399999999994" fill="#1c1c1c" stroke="#111" stroke-width="1.3"/>
<line x1="155.75" y1="522.5360000000001" x2="155.75" y2="521.46" stroke="#222" stroke-width="1.0"/>
<line x1="152.97" y1="521.46" x2="158.53" y2="521.46" stroke="#222" stroke-width="1.0"/>
<line x1="63.3" y1="515.8" x2="82.7" y2="515.8" stroke="#222" stroke-width="1.2"/>
<polygon points="68.00,509.00 68.88,510.79 70.85,511.07 69.43,512.46 69.76,514.43 68.00,513.50 66.24,514.43 66.57,512.46 65.15,511.07 67.12,510.79" fill="#222"/>
<polygon points="73.20,509.00 74.08,510.79 76.05,511.07 74.63,512.46 74.96,514.43 73.20,513.50 71.44,514.43 71.77,512.46 70.35,511.07 72.32,510.79" fill="#222"/>
<polygon points="78.40,509.00 79.28,510.79 81.25,511.07 79.83,512.46 80.16,514.43 78.40,513.50 76.64,514.43 76.97,512.46 75.55,511.07 77.52,510.79" fill="#222"/>
<line x1="121.3" y1="492.5" x2="139.3" y2="492.5" stroke="#222" stroke-width="1.2"/>
<polygon points="125.98,485.10 126.87,486.89 128.84,487.17 127.41,488.56 127.75,490.53 125.98,489.60 124.22,490.53 124.56,488.56 123.13,487.17 125.10,486.89" fill="#222"/>
<polygon points="131.15,485.10 132.03,486.89 134.00,487.17 132.58,488.56 132.91,490.53 131.15,489.60 129.39,490.53 129.72,488.56 128.30,487.17 130.27,486.89" fill="#222"/>
<polygon points="136.32,485.10 137.20,486.89 139.17,487.17 137.74,488.56 138.08,490.53 136.32,489.60 134.55,490.53 134.89,488.56 133.46,487.17 135.43,486.89" fill="#222"/>
<text x="39.6" y="572.6" font-size="7.25" font-weight="bold" text-anchor="middle" fill="#111" stroke="#111" stroke-width="0.22">NT</text>
<text x="62.5" y="572.6" font-size="7.25" font-weight="bold" text-anchor="middle" fill="#111" stroke="#111" stroke-width="0.22">Hx</text>
<text x="81" y="572.6" font-size="7.25" font-weight="bold" text-anchor="middle" fill="#111" stroke="#111" stroke-width="0.22">MSA</text>
<text x="100.8" y="572.6" font-size="7.25" font-weight="bold" text-anchor="middle" fill="#111" stroke="#111" stroke-width="0.22">heme</text>
<text x="122.5" y="572.6" font-size="7.25" font-weight="bold" text-anchor="middle" fill="#111" stroke="#111" stroke-width="0.22">Hx</text>
<text x="140.5" y="572.6" font-size="7.25" font-weight="bold" text-anchor="middle" fill="#111" stroke="#111" stroke-width="0.22">MSA</text>
<text x="160.9" y="572.6" font-size="7.25" font-weight="bold" text-anchor="middle" fill="#111" stroke="#111" stroke-width="0.22">heme</text>
<line x1="56" y1="574.4" x2="101.8" y2="574.4" stroke="#333" stroke-width="1.1"/>
<text x="79.8" y="582.4" font-size="7.6" font-weight="bold" text-anchor="middle" fill="#111" stroke="#111" stroke-width="0.22">6h</text>
<line x1="113.8" y1="574.5" x2="160.8" y2="574.5" stroke="#333" stroke-width="1.1"/>
<text x="138.6" y="582.6" font-size="7.6" font-weight="bold" text-anchor="middle" fill="#111" stroke="#111" stroke-width="0.22">10h</text>
<text x="32.7" y="595.8" font-size="6.8" text-anchor="start" fill="#222" stroke="#222" stroke-width="0.13" textLength="82.3" lengthAdjust="spacingAndGlyphs">NT vs MSA-heme 6/10h</text>
<text x="121.6" y="595.8" font-size="6.8" text-anchor="start" fill="#222" stroke="#222" stroke-width="0.13" textLength="37" lengthAdjust="spacingAndGlyphs">***P&lt;0.001</text>
<text x="183.0" y="406.9" font-size="14" font-weight="bold" text-anchor="start" fill="#111" stroke="#111" stroke-width="0.22">G</text>
<text x="251.8" y="408.8" font-size="10.4" font-weight="bold" text-anchor="start" fill="#111" stroke="#111" stroke-width="0.22" textLength="54.8" lengthAdjust="spacingAndGlyphs">FPN mRNA</text>
<line x1="206.2" y1="411.5" x2="206.2" y2="455" stroke="#111" stroke-width="1.3"/>
<line x1="204.2" y1="411.5" x2="206.2" y2="411.5" stroke="#111" stroke-width="1.3"/>
<text x="203.89999999999998" y="413.77" font-size="6.3" font-weight="bold" text-anchor="end" fill="#333" stroke="#333" stroke-width="0.22" textLength="10.2" lengthAdjust="spacingAndGlyphs">160</text>
<line x1="204.2" y1="421.826" x2="206.2" y2="421.826" stroke="#111" stroke-width="1.3"/>
<text x="203.89999999999998" y="424.09" font-size="6.3" font-weight="bold" text-anchor="end" fill="#333" stroke="#333" stroke-width="0.22" textLength="10.2" lengthAdjust="spacingAndGlyphs">140</text>
<line x1="204.2" y1="432.152" x2="206.2" y2="432.152" stroke="#111" stroke-width="1.3"/>
<text x="203.89999999999998" y="434.42" font-size="6.3" font-weight="bold" text-anchor="end" fill="#333" stroke="#333" stroke-width="0.22" textLength="10.2" lengthAdjust="spacingAndGlyphs">120</text>
<line x1="204.2" y1="442.478" x2="206.2" y2="442.478" stroke="#111" stroke-width="1.3"/>
<text x="203.89999999999998" y="444.75" font-size="6.3" font-weight="bold" text-anchor="end" fill="#333" stroke="#333" stroke-width="0.22" textLength="10.2" lengthAdjust="spacingAndGlyphs">100</text>
<line x1="204.2" y1="452.804" x2="206.2" y2="452.804" stroke="#111" stroke-width="1.3"/>
<text x="203.89999999999998" y="455.07" font-size="6.3" font-weight="bold" text-anchor="end" fill="#333" stroke="#333" stroke-width="0.22" textLength="6.8" lengthAdjust="spacingAndGlyphs">80</text>
<line x1="206.2" y1="456.5" x2="206.2" y2="483" stroke="#111" stroke-width="1.3"/>
<line x1="204.2" y1="458.59999999999997" x2="206.2" y2="458.59999999999997" stroke="#111" stroke-width="1.3"/>
<text x="203.89999999999998" y="460.87" font-size="6.3" font-weight="bold" text-anchor="end" fill="#333" stroke="#333" stroke-width="0.22" textLength="6.8" lengthAdjust="spacingAndGlyphs">40</text>
<line x1="204.2" y1="469.7" x2="206.2" y2="469.7" stroke="#111" stroke-width="1.3"/>
<text x="203.89999999999998" y="471.97" font-size="6.3" font-weight="bold" text-anchor="end" fill="#333" stroke="#333" stroke-width="0.22" textLength="6.8" lengthAdjust="spacingAndGlyphs">30</text>
<line x1="204.2" y1="480.8" x2="206.2" y2="480.8" stroke="#111" stroke-width="1.3"/>
<text x="203.89999999999998" y="483.07" font-size="6.3" font-weight="bold" text-anchor="end" fill="#333" stroke="#333" stroke-width="0.22" textLength="6.8" lengthAdjust="spacingAndGlyphs">20</text>
<line x1="206.2" y1="485" x2="206.2" y2="565" stroke="#111" stroke-width="1.3"/>
<line x1="204.2" y1="487.0" x2="206.2" y2="487.0" stroke="#111" stroke-width="1.3"/>
<text x="203.89999999999998" y="489.27" font-size="6.3" font-weight="bold" text-anchor="end" fill="#333" stroke="#333" stroke-width="0.22" textLength="3.4" lengthAdjust="spacingAndGlyphs">5</text>
<line x1="204.2" y1="502.6" x2="206.2" y2="502.6" stroke="#111" stroke-width="1.3"/>
<text x="203.89999999999998" y="504.87" font-size="6.3" font-weight="bold" text-anchor="end" fill="#333" stroke="#333" stroke-width="0.22" textLength="3.4" lengthAdjust="spacingAndGlyphs">4</text>
<line x1="204.2" y1="518.2" x2="206.2" y2="518.2" stroke="#111" stroke-width="1.3"/>
<text x="203.89999999999998" y="520.47" font-size="6.3" font-weight="bold" text-anchor="end" fill="#333" stroke="#333" stroke-width="0.22" textLength="3.4" lengthAdjust="spacingAndGlyphs">3</text>
<line x1="204.2" y1="533.8" x2="206.2" y2="533.8" stroke="#111" stroke-width="1.3"/>
<text x="203.89999999999998" y="536.07" font-size="6.3" font-weight="bold" text-anchor="end" fill="#333" stroke="#333" stroke-width="0.22" textLength="3.4" lengthAdjust="spacingAndGlyphs">2</text>
<line x1="204.2" y1="549.4" x2="206.2" y2="549.4" stroke="#111" stroke-width="1.3"/>
<text x="203.89999999999998" y="551.67" font-size="6.3" font-weight="bold" text-anchor="end" fill="#333" stroke="#333" stroke-width="0.22" textLength="3.4" lengthAdjust="spacingAndGlyphs">1</text>
<line x1="204.2" y1="565.0" x2="206.2" y2="565.0" stroke="#111" stroke-width="1.3"/>
<text x="203.89999999999998" y="567.27" font-size="6.3" font-weight="bold" text-anchor="end" fill="#333" stroke="#333" stroke-width="0.22" textLength="3.4" lengthAdjust="spacingAndGlyphs">0</text>
<line x1="206.2" y1="565" x2="338.5" y2="565" stroke="#111" stroke-width="1.3"/>
<line x1="223.7" y1="564.8" x2="223.7" y2="566.8" stroke="#222" stroke-width="1"/>
<text x="223.7" y="572.6" font-size="6.2" font-weight="bold" text-anchor="middle" fill="#333" stroke="#333" stroke-width="0.22">0</text>
<line x1="258.5" y1="564.8" x2="258.5" y2="566.8" stroke="#222" stroke-width="1"/>
<text x="258.5" y="572.6" font-size="6.2" font-weight="bold" text-anchor="middle" fill="#333" stroke="#333" stroke-width="0.22">4</text>
<line x1="293.8" y1="564.8" x2="293.8" y2="566.8" stroke="#222" stroke-width="1"/>
<text x="293.8" y="572.6" font-size="6.2" font-weight="bold" text-anchor="middle" fill="#333" stroke="#333" stroke-width="0.22">6</text>
<line x1="329.2" y1="564.8" x2="329.2" y2="566.8" stroke="#222" stroke-width="1"/>
<text x="329.2" y="572.6" font-size="6.2" font-weight="bold" text-anchor="middle" fill="#333" stroke="#333" stroke-width="0.22">15</text>
<text x="277.9" y="580.5" font-size="7.6" font-weight="bold" text-anchor="middle" fill="#111" stroke="#111" stroke-width="0.22" textLength="46.8" lengthAdjust="spacingAndGlyphs">Time (hours)</text>
<text x="193.6" y="499.6" font-size="10" font-weight="bold" text-anchor="middle" fill="#111" stroke="#111" stroke-width="0.22" textLength="14.6" lengthAdjust="spacingAndGlyphs" transform="rotate(-90 193.6 499.6)">RQ</text>
<line x1="258.5" y1="464.5" x2="258.5" y2="472.5" stroke="#222" stroke-width="0.8"/>
<line x1="256.5" y1="464.5" x2="260.5" y2="464.5" stroke="#222" stroke-width="0.8"/>
<line x1="256.5" y1="472.5" x2="260.5" y2="472.5" stroke="#222" stroke-width="0.8"/>
<line x1="293.8" y1="465" x2="293.8" y2="472.5" stroke="#222" stroke-width="0.8"/>
<line x1="291.8" y1="465" x2="295.8" y2="465" stroke="#222" stroke-width="0.8"/>
<line x1="291.8" y1="472.5" x2="295.8" y2="472.5" stroke="#222" stroke-width="0.8"/>
<line x1="329.2" y1="426.5" x2="329.2" y2="453" stroke="#222" stroke-width="0.8"/>
<line x1="327.2" y1="426.5" x2="331.2" y2="426.5" stroke="#222" stroke-width="0.8"/>
<line x1="327.2" y1="453" x2="331.2" y2="453" stroke="#222" stroke-width="0.8"/>
<polyline points="258.5,468.8 293.8,468.8" fill="none" stroke="#111" stroke-width="1.1"/>
<line x1="293.8" y1="468.8" x2="306.78219178082196" y2="458" stroke="#111" stroke-width="1.1"/>
<line x1="312.1914383561644" y1="453.5" x2="328.9" y2="439.6" stroke="#111" stroke-width="1.1"/>
<line x1="223.7" y1="549.7" x2="251.10123609394316" y2="486" stroke="#111" stroke-width="1.1"/>
<line x1="253.25203955500618" y1="481" x2="258.5" y2="468.8" stroke="#111" stroke-width="1.1"/>
<line x1="258.5" y1="491" x2="258.5" y2="512" stroke="#888" stroke-width="0.8"/>
<line x1="256.5" y1="491" x2="260.5" y2="491" stroke="#888" stroke-width="0.8"/>
<line x1="256.5" y1="512" x2="260.5" y2="512" stroke="#888" stroke-width="0.8"/>
<line x1="293.8" y1="526" x2="293.8" y2="533" stroke="#888" stroke-width="0.8"/>
<line x1="291.8" y1="526" x2="295.8" y2="526" stroke="#888" stroke-width="0.8"/>
<line x1="291.8" y1="533" x2="295.8" y2="533" stroke="#888" stroke-width="0.8"/>
<line x1="329.2" y1="546.5" x2="329.2" y2="550.5" stroke="#888" stroke-width="0.8"/>
<line x1="327.2" y1="546.5" x2="331.2" y2="546.5" stroke="#888" stroke-width="0.8"/>
<line x1="327.2" y1="550.5" x2="331.2" y2="550.5" stroke="#888" stroke-width="0.8"/>
<polyline points="223.7,549.7 258.5,496.8 293.8,529.4 329.2,548.5" fill="none" stroke="#888" stroke-width="1"/>
<line x1="258.5" y1="503" x2="258.5" y2="511" stroke="#222" stroke-width="0.8"/>
<line x1="256.5" y1="503" x2="260.5" y2="503" stroke="#222" stroke-width="0.8"/>
<line x1="256.5" y1="511" x2="260.5" y2="511" stroke="#222" stroke-width="0.8"/>
<line x1="293.8" y1="525.5" x2="293.8" y2="530" stroke="#222" stroke-width="0.8"/>
<line x1="291.8" y1="525.5" x2="295.8" y2="525.5" stroke="#222" stroke-width="0.8"/>
<line x1="291.8" y1="530" x2="295.8" y2="530" stroke="#222" stroke-width="0.8"/>
<polyline points="223.7,549.7 258.5,506.9 293.8,527.8 329.2,541.4" fill="none" stroke="#222" stroke-width="1"/>
<line x1="293.8" y1="551.5" x2="293.8" y2="556" stroke="#777" stroke-width="0.8"/>
<line x1="291.8" y1="551.5" x2="295.8" y2="551.5" stroke="#777" stroke-width="0.8"/>
<line x1="291.8" y1="556" x2="295.8" y2="556" stroke="#777" stroke-width="0.8"/>
<line x1="329.2" y1="558" x2="329.2" y2="560.5" stroke="#777" stroke-width="0.8"/>
<line x1="327.2" y1="558" x2="331.2" y2="558" stroke="#777" stroke-width="0.8"/>
<line x1="327.2" y1="560.5" x2="331.2" y2="560.5" stroke="#777" stroke-width="0.8"/>
<polyline points="223.7,549.7 258.5,541.7 293.8,553.7 329.2,559.2" fill="none" stroke="#777" stroke-width="1"/>
<circle cx="258.5" cy="541.7" r="1.6" fill="#777"/>
<circle cx="293.8" cy="553.7" r="1.6" fill="#777"/>
<circle cx="329.2" cy="559.2" r="1.6" fill="#777"/>
<polygon points="258.5,495.0 260.3,496.8 258.5,498.6 256.7,496.8" fill="#8a8a8a"/>
<polygon points="293.8,527.6 295.6,529.4 293.8,531.1999999999999 292.0,529.4" fill="#8a8a8a"/>
<polygon points="329.2,546.7 331.0,548.5 329.2,550.3 327.4,548.5" fill="#8a8a8a"/>
<polygon points="258.5,505.09999999999997 260.3,506.9 258.5,508.7 256.7,506.9" fill="#222"/>
<polygon points="293.8,526.0 295.6,527.8 293.8,529.5999999999999 292.0,527.8" fill="#222"/>
<polygon points="329.2,539.6 331.0,541.4 329.2,543.1999999999999 327.4,541.4" fill="#222"/>
<rect x="256.4" y="466.7" width="4.2" height="4.2" fill="#000"/>
<rect x="291.7" y="466.7" width="4.2" height="4.2" fill="#000"/>
<rect x="326.79999999999995" y="437.5" width="4.2" height="4.2" fill="#000"/>
<rect x="221.6" y="547.6" width="4.2" height="4.2" fill="#222"/>
<polygon points="256.35,486.62 257.16,488.26 258.97,488.53 257.66,489.80 257.97,491.60 256.35,490.75 254.73,491.60 255.04,489.80 253.73,488.53 255.54,488.26" fill="#8a8a8a"/>
<polygon points="261.85,486.62 262.66,488.26 264.47,488.53 263.16,489.80 263.47,491.60 261.85,490.75 260.23,491.60 260.54,489.80 259.23,488.53 261.04,488.26" fill="#8a8a8a"/>
<polygon points="258.70,515.02 259.51,516.66 261.32,516.93 260.01,518.20 260.32,520.00 258.70,519.15 257.08,520.00 257.39,518.20 256.08,516.93 257.89,516.66" fill="#222"/>
<polygon points="294.00,520.42 294.81,522.06 296.62,522.33 295.31,523.60 295.62,525.40 294.00,524.55 292.38,525.40 292.69,523.60 291.38,522.33 293.19,522.06" fill="#8a8a8a"/>
<polygon points="294.00,532.73 294.81,534.36 296.62,534.63 295.31,535.90 295.62,537.70 294.00,536.85 292.38,537.70 292.69,535.90 291.38,534.63 293.19,534.36" fill="#222"/>
<polygon points="329.00,534.12 329.81,535.76 331.62,536.03 330.31,537.30 330.62,539.10 329.00,538.25 327.38,539.10 327.69,537.30 326.38,536.03 328.19,535.76" fill="#222"/>
<rect x="208.2" y="417.5" width="44.6" height="28.3" fill="#fff" stroke="#999" stroke-width="0.7"/>
<line x1="210.8" y1="422.5" x2="216.8" y2="422.5" stroke="#777" stroke-width="0.9"/>
<polygon points="213.8,420.58 215.72,422.5 213.8,424.42 211.88000000000002,422.5" fill="#777"/>
<text x="219.8" y="424.8" font-size="6.4" text-anchor="start" fill="#333" stroke="#333" stroke-width="0.13">Hx-heme</text>
<line x1="210.8" y1="429" x2="216.8" y2="429" stroke="#999" stroke-width="0.9"/>
<polygon points="213.8,427.08 215.72,429 213.8,430.92 211.88000000000002,429" fill="#999"/>
<text x="219.8" y="431.3" font-size="6.4" text-anchor="start" fill="#333" stroke="#333" stroke-width="0.13">MSA-heme</text>
<line x1="210.8" y1="435.2" x2="216.8" y2="435.2" stroke="#222" stroke-width="0.9"/>
<polygon points="213.8,433.28 215.72,435.2 213.8,437.12 211.88000000000002,435.2" fill="#222"/>
<text x="219.8" y="437.5" font-size="6.4" text-anchor="start" fill="#333" stroke="#333" stroke-width="0.13">HSA-heme</text>
<line x1="210.8" y1="442.4" x2="216.8" y2="442.4" stroke="#111" stroke-width="0.9"/>
<circle cx="213.8" cy="442.4" r="1.6" fill="#111"/>
<text x="219.8" y="444.7" font-size="6.4" text-anchor="start" fill="#333" stroke="#333" stroke-width="0.13">heme</text>
<text x="207.6" y="589.2" font-size="6.9" text-anchor="start" fill="#222" stroke="#222" stroke-width="0.13" textLength="87.8" lengthAdjust="spacingAndGlyphs">NT 0h vs HSA-heme 4/6h</text>
<text x="207.6" y="596.2" font-size="6.9" text-anchor="start" fill="#222" stroke="#222" stroke-width="0.13" textLength="82" lengthAdjust="spacingAndGlyphs">NT 0h vs MSA-heme 4h</text>
<text x="207.6" y="603" font-size="6.9" text-anchor="start" fill="#222" stroke="#222" stroke-width="0.13" textLength="82" lengthAdjust="spacingAndGlyphs">NT 0h vs MSA-heme 6h</text>
<text x="298" y="589.2" font-size="6.9" text-anchor="start" fill="#222" stroke="#222" stroke-width="0.13" textLength="27.4" lengthAdjust="spacingAndGlyphs">*P&lt;0.05</text>
<text x="294.5" y="596.2" font-size="6.9" text-anchor="start" fill="#222" stroke="#222" stroke-width="0.13" textLength="30" lengthAdjust="spacingAndGlyphs">**P&lt;0.01</text>
<text x="296.2" y="603" font-size="6.9" text-anchor="start" fill="#222" stroke="#222" stroke-width="0.13" textLength="27.7" lengthAdjust="spacingAndGlyphs">*P&lt;0.05</text>
<text x="356.3" y="407" font-size="14" font-weight="bold" text-anchor="start" fill="#111" stroke="#111" stroke-width="0.22">H</text>
<text x="416.2" y="408" font-size="10.4" font-weight="bold" text-anchor="start" fill="#111" stroke="#111" stroke-width="0.22" textLength="58.1" lengthAdjust="spacingAndGlyphs">FPN protein</text>
<line x1="400.4" y1="426.9" x2="454" y2="426.9" stroke="#333" stroke-width="1.1"/>
<text x="424.6" y="423.5" font-size="7.6" font-weight="bold" text-anchor="middle" fill="#111" stroke="#111" stroke-width="0.22">6h</text>
<line x1="458.5" y1="426.9" x2="511.5" y2="426.9" stroke="#333" stroke-width="1.1"/>
<text x="483.5" y="423.5" font-size="7.6" font-weight="bold" text-anchor="middle" fill="#111" stroke="#111" stroke-width="0.22">10h</text>
<text x="387.3" y="436.9" font-size="7.8" font-weight="bold" text-anchor="middle" fill="#111" stroke="#111" stroke-width="0.22">NT</text>
<text x="406.5" y="436.9" font-size="7.8" font-weight="bold" text-anchor="middle" fill="#111" stroke="#111" stroke-width="0.22">Hx</text>
<text x="425" y="436.9" font-size="7.8" font-weight="bold" text-anchor="middle" fill="#111" stroke="#111" stroke-width="0.22">MSA</text>
<text x="445.8" y="436.9" font-size="7.8" font-weight="bold" text-anchor="middle" fill="#111" stroke="#111" stroke-width="0.22">heme</text>
<text x="463.6" y="436.9" font-size="7.8" font-weight="bold" text-anchor="middle" fill="#111" stroke="#111" stroke-width="0.22">Hx</text>
<text x="481.5" y="436.9" font-size="7.8" font-weight="bold" text-anchor="middle" fill="#111" stroke="#111" stroke-width="0.22">MSA</text>
<text x="505" y="436.9" font-size="7.8" font-weight="bold" text-anchor="middle" fill="#111" stroke="#111" stroke-width="0.22">heme</text>
<rect x="375.4" y="440.2" width="142.20000000000005" height="13.900000000000034" fill="#e2e2e2"/>
<rect x="376.5" y="445.00" width="17" height="3.20" rx="1.60" fill="#383838" filter="url(#bl)"/>
<rect x="395.5" y="444.80" width="18" height="3.60" rx="1.80" fill="#666" filter="url(#bl)"/>
<rect x="417.5" y="444.40" width="19" height="4.40" rx="2.20" fill="#1c1c1c" filter="url(#bl)"/>
<rect x="438.5" y="444.00" width="19" height="5.20" rx="2.60" fill="#121212" filter="url(#bl)"/>
<rect x="459.5" y="444.60" width="16" height="4.00" rx="2.00" fill="#333" filter="url(#bl)"/>
<rect x="478.5" y="444.50" width="17" height="4.20" rx="2.10" fill="#262626" filter="url(#bl)"/>
<rect x="497.5" y="444.60" width="18" height="4.00" rx="2.00" fill="#383838" filter="url(#bl)"/>
<rect x="375.4" y="455.5" width="142.20000000000005" height="9.800000000000011" fill="#e8e8e8"/>
<rect x="376.5" y="458.80" width="20" height="3.40" rx="1.70" fill="#2c2c2c" filter="url(#bl)"/>
<rect x="397.5" y="458.80" width="18" height="3.40" rx="1.70" fill="#2c2c2c" filter="url(#bl)"/>
<rect x="417.5" y="458.80" width="19" height="3.40" rx="1.70" fill="#2c2c2c" filter="url(#bl)"/>
<rect x="438.5" y="458.80" width="19" height="3.40" rx="1.70" fill="#2c2c2c" filter="url(#bl)"/>
<rect x="458.5" y="458.80" width="17" height="3.40" rx="1.70" fill="#2c2c2c" filter="url(#bl)"/>
<rect x="477.5" y="458.80" width="18" height="3.40" rx="1.70" fill="#2c2c2c" filter="url(#bl)"/>
<rect x="497.5" y="458.80" width="18" height="3.40" rx="1.70" fill="#2c2c2c" filter="url(#bl)"/>
<text x="351.5" y="450.8" font-size="10" font-weight="bold" text-anchor="start" fill="#111" stroke="#111" stroke-width="0.22" textLength="20.6" lengthAdjust="spacingAndGlyphs">FPN</text>
<text x="345.7" y="462.9" font-size="10" font-weight="bold" text-anchor="start" fill="#111" stroke="#111" stroke-width="0.22" textLength="26.5" lengthAdjust="spacingAndGlyphs">Actin</text>
<line x1="375.2" y1="481.9" x2="375.2" y2="565" stroke="#111" stroke-width="1.3"/>
<line x1="373.2" y1="481.9" x2="375.2" y2="481.9" stroke="#111" stroke-width="1.3"/>
<text x="372.9" y="483.84" font-size="5.4" font-weight="bold" text-anchor="end" fill="#333" stroke="#333" stroke-width="0.22" textLength="7.8" lengthAdjust="spacingAndGlyphs">1.5</text>
<line x1="373.2" y1="509.6" x2="375.2" y2="509.6" stroke="#111" stroke-width="1.3"/>
<text x="372.9" y="511.54" font-size="5.4" font-weight="bold" text-anchor="end" fill="#333" stroke="#333" stroke-width="0.22" textLength="7.8" lengthAdjust="spacingAndGlyphs">1.0</text>
<line x1="373.2" y1="537.3" x2="375.2" y2="537.3" stroke="#111" stroke-width="1.3"/>
<text x="372.9" y="539.24" font-size="5.4" font-weight="bold" text-anchor="end" fill="#333" stroke="#333" stroke-width="0.22" textLength="7.8" lengthAdjust="spacingAndGlyphs">0.5</text>
<line x1="373.2" y1="565.0" x2="375.2" y2="565.0" stroke="#111" stroke-width="1.3"/>
<text x="372.9" y="566.94" font-size="5.4" font-weight="bold" text-anchor="end" fill="#333" stroke="#333" stroke-width="0.22" textLength="7.8" lengthAdjust="spacingAndGlyphs">0.0</text>
<line x1="375" y1="565" x2="513.5" y2="565" stroke="#111" stroke-width="1.3"/>
<text x="363.2" y="521.3" font-size="10.6" font-weight="bold" text-anchor="middle" fill="#111" stroke="#111" stroke-width="0.22" textLength="13.2" lengthAdjust="spacingAndGlyphs" transform="rotate(-90 363.2 521.3)">AU</text>
<rect x="378.95" y="510.25" width="13.899999999999988" height="54.74999999999998" fill="#fff" stroke="#111" stroke-width="1.3"/>
<rect x="403.75" y="504.71" width="13.099999999999977" height="60.29" fill="#a9a9a9" stroke="#111" stroke-width="1.3"/>
<line x1="410.3" y1="504.06" x2="410.3" y2="502.398" stroke="#222" stroke-width="1.0"/>
<line x1="407.42" y1="502.398" x2="413.18" y2="502.398" stroke="#222" stroke-width="1.0"/>
<rect x="420.25" y="484.76599999999996" width="12.599999999999977" height="80.23400000000001" fill="#626262" stroke="#111" stroke-width="1.3"/>
<line x1="426.55" y1="484.116" x2="426.55" y2="481.9" stroke="#222" stroke-width="1.0"/>
<line x1="423.77000000000004" y1="481.9" x2="429.33" y2="481.9" stroke="#222" stroke-width="1.0"/>
<rect x="437.15" y="488.644" width="13.2" height="76.35599999999997" fill="#1c1c1c" stroke="#111" stroke-width="1.3"/>
<line x1="443.75" y1="487.994" x2="443.75" y2="484.67" stroke="#222" stroke-width="1.0"/>
<line x1="440.85" y1="484.67" x2="446.65" y2="484.67" stroke="#222" stroke-width="1.0"/>
<rect x="461.84999999999997" y="514.1279999999999" width="12.50000000000001" height="50.87200000000005" fill="#a9a9a9" stroke="#111" stroke-width="1.3"/>
<line x1="468.1" y1="513.478" x2="468.1" y2="509.6" stroke="#222" stroke-width="1.0"/>
<line x1="465.34000000000003" y1="509.6" x2="470.86" y2="509.6" stroke="#222" stroke-width="1.0"/>
<rect x="477.65" y="483.658" width="13.2" height="81.34199999999996" fill="#626262" stroke="#111" stroke-width="1.3"/>
<line x1="484.25" y1="483.00800000000004" x2="484.25" y2="481.9" stroke="#222" stroke-width="1.0"/>
<line x1="481.35" y1="481.9" x2="487.15" y2="481.9" stroke="#222" stroke-width="1.0"/>
<rect x="494.65" y="484.212" width="13.2" height="80.78799999999998" fill="#1c1c1c" stroke="#111" stroke-width="1.3"/>
<line x1="501.25" y1="483.562" x2="501.25" y2="481.9" stroke="#222" stroke-width="1.0"/>
<line x1="498.35" y1="481.9" x2="504.15" y2="481.9" stroke="#222" stroke-width="1.0"/>
<line x1="406.9" y1="477.9" x2="428.6" y2="477.9" stroke="#222" stroke-width="1.2"/>
<polygon points="413.80,471.10 414.68,472.89 416.65,473.17 415.23,474.56 415.56,476.53 413.80,475.60 412.04,476.53 412.37,474.56 410.95,473.17 412.92,472.89" fill="#222"/>
<polygon points="419.00,471.10 419.88,472.89 421.85,473.17 420.43,474.56 420.76,476.53 419.00,475.60 417.24,476.53 417.57,474.56 416.15,473.17 418.12,472.89" fill="#222"/>
<polygon points="424.20,471.10 425.08,472.89 427.05,473.17 425.63,474.56 425.96,476.53 424.20,475.60 422.44,476.53 422.77,474.56 421.35,473.17 423.32,472.89" fill="#222"/>
<line x1="463.2" y1="477.9" x2="484.8" y2="477.9" stroke="#222" stroke-width="1.2"/>
<polygon points="472.48,471.24 473.31,472.93 475.19,473.20 473.83,474.53 474.15,476.39 472.48,475.51 470.80,476.39 471.12,474.53 469.76,473.20 471.64,472.93" fill="#222"/>
<polygon points="477.23,471.24 478.06,472.93 479.94,473.20 478.58,474.53 478.90,476.39 477.23,475.51 475.55,476.39 475.87,474.53 474.51,473.20 476.39,472.93" fill="#222"/>
<text x="386.3" y="572.4" font-size="7.25" font-weight="bold" text-anchor="middle" fill="#111" stroke="#111" stroke-width="0.22">NT</text>
<text x="409.4" y="572.4" font-size="7.25" font-weight="bold" text-anchor="middle" fill="#111" stroke="#111" stroke-width="0.22">Hx</text>
<text x="427.3" y="572.4" font-size="7.25" font-weight="bold" text-anchor="middle" fill="#111" stroke="#111" stroke-width="0.22">MSA</text>
<text x="447" y="572.4" font-size="7.25" font-weight="bold" text-anchor="middle" fill="#111" stroke="#111" stroke-width="0.22">heme</text>
<text x="469.4" y="572.4" font-size="7.25" font-weight="bold" text-anchor="middle" fill="#111" stroke="#111" stroke-width="0.22">Hx</text>
<text x="484.7" y="572.4" font-size="7.25" font-weight="bold" text-anchor="middle" fill="#111" stroke="#111" stroke-width="0.22">MSA</text>
<text x="505.3" y="572.4" font-size="7.25" font-weight="bold" text-anchor="middle" fill="#111" stroke="#111" stroke-width="0.22">heme</text>
<line x1="402.9" y1="574.4" x2="449.8" y2="574.4" stroke="#333" stroke-width="1.1"/>
<text x="426.1" y="582.4" font-size="7.6" font-weight="bold" text-anchor="middle" fill="#111" stroke="#111" stroke-width="0.22">6h</text>
<line x1="460.6" y1="574.5" x2="507.5" y2="574.5" stroke="#333" stroke-width="1.1"/>
<text x="485" y="582.4" font-size="7.6" font-weight="bold" text-anchor="middle" fill="#111" stroke="#111" stroke-width="0.22">10h</text>
<text x="374.4" y="594" font-size="6.8" text-anchor="start" fill="#222" stroke="#222" stroke-width="0.13" textLength="80.8" lengthAdjust="spacingAndGlyphs">NT vs MSA-heme 6h/10h</text>
<text x="460.6" y="594" font-size="6.8" text-anchor="start" fill="#222" stroke="#222" stroke-width="0.13" textLength="37.2" lengthAdjust="spacingAndGlyphs">***P&lt;0,001</text>
<text x="5.9" y="621.9" font-size="14" font-weight="bold" text-anchor="start" fill="#111" stroke="#111" stroke-width="0.22">I</text>
<text x="38.3" y="624.5" font-size="10.7" font-weight="bold" text-anchor="start" fill="#111" stroke="#111" stroke-width="0.22" textLength="81.6" lengthAdjust="spacingAndGlyphs">ROS Production</text>
<text x="125.5" y="624.5" font-size="10.7" font-weight="bold" text-anchor="start" fill="#111" stroke="#111" stroke-width="0.22" textLength="30.5" lengthAdjust="spacingAndGlyphs">Assay</text>
<line x1="38.9" y1="648.5" x2="38.9" y2="742.6" stroke="#111" stroke-width="1.3"/>
<line x1="36.9" y1="648.52" x2="38.9" y2="648.52" stroke="#111" stroke-width="1.3"/>
<text x="36.4" y="650.61" font-size="5.8" font-weight="bold" text-anchor="end" fill="#333" stroke="#333" stroke-width="0.22" textLength="18.0" lengthAdjust="spacingAndGlyphs">350000</text>
<line x1="36.9" y1="661.96" x2="38.9" y2="661.96" stroke="#111" stroke-width="1.3"/>
<text x="36.4" y="664.05" font-size="5.8" font-weight="bold" text-anchor="end" fill="#333" stroke="#333" stroke-width="0.22" textLength="18.0" lengthAdjust="spacingAndGlyphs">300000</text>
<line x1="36.9" y1="675.4" x2="38.9" y2="675.4" stroke="#111" stroke-width="1.3"/>
<text x="36.4" y="677.49" font-size="5.8" font-weight="bold" text-anchor="end" fill="#333" stroke="#333" stroke-width="0.22" textLength="18.0" lengthAdjust="spacingAndGlyphs">250000</text>
<line x1="36.9" y1="688.84" x2="38.9" y2="688.84" stroke="#111" stroke-width="1.3"/>
<text x="36.4" y="690.93" font-size="5.8" font-weight="bold" text-anchor="end" fill="#333" stroke="#333" stroke-width="0.22" textLength="18.0" lengthAdjust="spacingAndGlyphs">200000</text>
<line x1="36.9" y1="702.28" x2="38.9" y2="702.28" stroke="#111" stroke-width="1.3"/>
<text x="36.4" y="704.37" font-size="5.8" font-weight="bold" text-anchor="end" fill="#333" stroke="#333" stroke-width="0.22" textLength="18.0" lengthAdjust="spacingAndGlyphs">150000</text>
<line x1="36.9" y1="715.72" x2="38.9" y2="715.72" stroke="#111" stroke-width="1.3"/>
<text x="36.4" y="717.81" font-size="5.8" font-weight="bold" text-anchor="end" fill="#333" stroke="#333" stroke-width="0.22" textLength="18.0" lengthAdjust="spacingAndGlyphs">100000</text>
<line x1="36.9" y1="729.16" x2="38.9" y2="729.16" stroke="#111" stroke-width="1.3"/>
<text x="36.4" y="731.25" font-size="5.8" font-weight="bold" text-anchor="end" fill="#333" stroke="#333" stroke-width="0.22" textLength="15.0" lengthAdjust="spacingAndGlyphs">50000</text>
<line x1="36.9" y1="742.6" x2="38.9" y2="742.6" stroke="#111" stroke-width="1.3"/>
<text x="36.4" y="744.69" font-size="5.8" font-weight="bold" text-anchor="end" fill="#333" stroke="#333" stroke-width="0.22" textLength="3.0" lengthAdjust="spacingAndGlyphs">0</text>
<line x1="38.9" y1="742.6" x2="179" y2="742.6" stroke="#111" stroke-width="1.3"/>
<text x="7.1" y="697.2" font-size="6.1" font-weight="bold" text-anchor="middle" fill="#222" stroke="#222" stroke-width="0.22" textLength="61" lengthAdjust="spacingAndGlyphs" transform="rotate(-90 7.1 697.2)">Fluorescence Intensity</text>
<text x="14" y="696.2" font-size="6.2" font-weight="bold" text-anchor="middle" fill="#222" stroke="#222" stroke-width="0.22" textLength="47.5" lengthAdjust="spacingAndGlyphs" transform="rotate(-90 14 696.2)">Units/mg protein</text>
<rect x="44.2" y="713.6320000000001" width="17.3" height="28.967999999999982" fill="#fff" stroke="#111" stroke-width="1.2"/>
<line x1="52.85" y1="713.032" x2="52.85" y2="711.9568" stroke="#222" stroke-width="1.0"/>
<line x1="49.15" y1="711.9568" x2="56.550000000000004" y2="711.9568" stroke="#222" stroke-width="1.0"/>
<rect x="65.5" y="684.0640000000001" width="17.49999999999999" height="58.535999999999966" fill="#a4a4a4" stroke="#111" stroke-width="1.2"/>
<line x1="74.25" y1="683.464" x2="74.25" y2="679.7008000000001" stroke="#222" stroke-width="1.0"/>
<line x1="70.51" y1="679.7008000000001" x2="77.99" y2="679.7008000000001" stroke="#222" stroke-width="1.0"/>
<rect x="87.0" y="660.6784" width="17.899999999999995" height="81.92160000000004" fill="#5a5a5a" stroke="#111" stroke-width="1.2"/>
<line x1="95.95" y1="660.0784" x2="95.95" y2="655.5088000000001" stroke="#222" stroke-width="1.0"/>
<line x1="92.13000000000001" y1="655.5088000000001" x2="99.77" y2="655.5088000000001" stroke="#222" stroke-width="1.0"/>
<rect x="115.69999999999999" y="721.1584" width="17.3" height="21.441600000000015" fill="#fff" stroke="#111" stroke-width="1.2"/>
<line x1="124.35" y1="720.5584" x2="124.35" y2="718.408" stroke="#222" stroke-width="1.0"/>
<line x1="120.64999999999999" y1="718.408" x2="128.04999999999998" y2="718.408" stroke="#222" stroke-width="1.0"/>
<rect x="137.0" y="710.9440000000001" width="17.3" height="31.65599999999997" fill="#a4a4a4" stroke="#111" stroke-width="1.2"/>
<line x1="145.65" y1="710.344" x2="145.65" y2="709.8064" stroke="#222" stroke-width="1.0"/>
<line x1="141.95000000000002" y1="709.8064" x2="149.35" y2="709.8064" stroke="#222" stroke-width="1.0"/>
<rect x="158.7" y="679.7632000000001" width="17.500000000000018" height="62.83679999999995" fill="#5a5a5a" stroke="#111" stroke-width="1.2"/>
<line x1="167.45" y1="679.1632000000001" x2="167.45" y2="675.4" stroke="#222" stroke-width="1.0"/>
<line x1="163.70999999999998" y1="675.4" x2="171.19" y2="675.4" stroke="#222" stroke-width="1.0"/>
<line x1="49.7" y1="640.1" x2="97.2" y2="640.1" stroke="#222" stroke-width="1.2"/>
<polygon points="67.20,631.73 68.30,633.96 70.77,634.32 68.98,636.05 69.40,638.51 67.20,637.35 65.00,638.51 65.42,636.05 63.63,634.32 66.10,633.96" fill="#222"/>
<polygon points="73.60,631.73 74.70,633.96 77.17,634.32 75.38,636.05 75.80,638.51 73.60,637.35 71.40,638.51 71.82,636.05 70.03,634.32 72.50,633.96" fill="#222"/>
<polygon points="80.00,631.73 81.10,633.96 83.57,634.32 81.78,636.05 82.20,638.51 80.00,637.35 77.80,638.51 78.22,636.05 76.43,634.32 78.90,633.96" fill="#222"/>
<line x1="69.3" y1="652.9" x2="95.2" y2="652.9" stroke="#222" stroke-width="1.2"/>
<polygon points="74.60,644.52 75.70,646.76 78.17,647.12 76.38,648.85 76.80,651.31 74.60,650.15 72.40,651.31 72.82,648.85 71.03,647.12 73.50,646.76" fill="#222"/>
<polygon points="81.00,644.52 82.10,646.76 84.57,647.12 82.78,648.85 83.20,651.31 81.00,650.15 78.80,651.31 79.22,648.85 77.43,647.12 79.90,646.76" fill="#222"/>
<polygon points="87.40,644.52 88.50,646.76 90.97,647.12 89.18,648.85 89.60,651.31 87.40,650.15 85.20,651.31 85.62,648.85 83.83,647.12 86.30,646.76" fill="#222"/>
<line x1="49.2" y1="675.7" x2="75.3" y2="675.7" stroke="#222" stroke-width="1.2"/>
<polygon points="54.90,666.73 56.00,668.96 58.47,669.32 56.68,671.05 57.10,673.51 54.90,672.35 52.70,673.51 53.12,671.05 51.33,669.32 53.80,668.96" fill="#222"/>
<polygon points="61.30,666.73 62.40,668.96 64.87,669.32 63.08,671.05 63.50,673.51 61.30,672.35 59.10,673.51 59.52,671.05 57.73,669.32 60.20,668.96" fill="#222"/>
<polygon points="67.70,666.73 68.80,668.96 71.27,669.32 69.48,671.05 69.90,673.51 67.70,672.35 65.50,673.51 65.92,671.05 64.13,669.32 66.60,668.96" fill="#222"/>
<line x1="121.4" y1="661.8" x2="167.9" y2="661.8" stroke="#222" stroke-width="1.2"/>
<polygon points="138.85,654.02 139.95,656.26 142.42,656.62 140.63,658.35 141.05,660.81 138.85,659.65 136.65,660.81 137.07,658.35 135.28,656.62 137.75,656.26" fill="#222"/>
<polygon points="145.35,654.02 146.45,656.26 148.92,656.62 147.13,658.35 147.55,660.81 145.35,659.65 143.15,660.81 143.57,658.35 141.78,656.62 144.25,656.26" fill="#222"/>
<polygon points="151.85,654.02 152.95,656.26 155.42,656.62 153.63,658.35 154.05,660.81 151.85,659.65 149.65,660.81 150.07,658.35 148.28,656.62 150.75,656.26" fill="#222"/>
<line x1="142" y1="671.9" x2="167.9" y2="671.9" stroke="#222" stroke-width="1.2"/>
<polygon points="148.50,664.52 149.60,666.76 152.07,667.12 150.28,668.85 150.70,671.31 148.50,670.15 146.30,671.31 146.72,668.85 144.93,667.12 147.40,666.76" fill="#222"/>
<polygon points="154.90,664.52 156.00,666.76 158.47,667.12 156.68,668.85 157.10,671.31 154.90,670.15 152.70,671.31 153.12,668.85 151.33,667.12 153.80,666.76" fill="#222"/>
<polygon points="161.30,664.52 162.40,666.76 164.87,667.12 163.08,668.85 163.50,671.31 161.30,670.15 159.10,671.31 159.52,668.85 157.73,667.12 160.20,666.76" fill="#222"/>
<text x="54.3" y="750.2" font-size="7.8" font-weight="bold" text-anchor="middle" fill="#111" stroke="#111" stroke-width="0.22">NT</text>
<text x="75.5" y="750.2" font-size="7.8" font-weight="bold" text-anchor="middle" fill="#111" stroke="#111" stroke-width="0.22">Hx</text>
<text x="96" y="750.2" font-size="7.8" font-weight="bold" text-anchor="middle" fill="#111" stroke="#111" stroke-width="0.22">HSA</text>
<text x="125.1" y="750.2" font-size="7.8" font-weight="bold" text-anchor="middle" fill="#111" stroke="#111" stroke-width="0.22">NT</text>
<text x="147" y="750.2" font-size="7.8" font-weight="bold" text-anchor="middle" fill="#111" stroke="#111" stroke-width="0.22">Hx</text>
<text x="169.4" y="750.2" font-size="7.8" font-weight="bold" text-anchor="middle" fill="#111" stroke="#111" stroke-width="0.22">HSA</text>
<line x1="44.7" y1="752.8" x2="105.5" y2="752.8" stroke="#333" stroke-width="1.1"/>
<line x1="116.2" y1="752.8" x2="177.9" y2="752.8" stroke="#333" stroke-width="1.1"/>
<text x="76.6" y="760.6" font-size="7" text-anchor="middle" fill="#222" stroke="#222" stroke-width="0.13">6hrs</text>
<text x="147" y="760.6" font-size="7" text-anchor="middle" fill="#222" stroke="#222" stroke-width="0.13">15hrs</text>
<text x="183.6" y="622.2" font-size="14" font-weight="bold" text-anchor="start" fill="#111" stroke="#111" stroke-width="0.22">J</text>
<text x="247.1" y="624.6" font-size="10.4" font-weight="bold" text-anchor="start" fill="#111" stroke="#111" stroke-width="0.22" textLength="64.6" lengthAdjust="spacingAndGlyphs">TNF α mRNA</text>
<line x1="231" y1="652.9" x2="231" y2="742.2" stroke="#111" stroke-width="1.3"/>
<line x1="229" y1="652.8900000000001" x2="231" y2="652.8900000000001" stroke="#111" stroke-width="1.3"/>
<text x="228.7" y="655.12" font-size="6.2" font-weight="bold" text-anchor="end" fill="#333" stroke="#333" stroke-width="0.22" textLength="3.3" lengthAdjust="spacingAndGlyphs">3</text>
<line x1="229" y1="682.6600000000001" x2="231" y2="682.6600000000001" stroke="#111" stroke-width="1.3"/>
<text x="228.7" y="684.89" font-size="6.2" font-weight="bold" text-anchor="end" fill="#333" stroke="#333" stroke-width="0.22" textLength="3.3" lengthAdjust="spacingAndGlyphs">2</text>
<line x1="229" y1="712.4300000000001" x2="231" y2="712.4300000000001" stroke="#111" stroke-width="1.3"/>
<text x="228.7" y="714.66" font-size="6.2" font-weight="bold" text-anchor="end" fill="#333" stroke="#333" stroke-width="0.22" textLength="3.3" lengthAdjust="spacingAndGlyphs">1</text>
<line x1="229" y1="742.2" x2="231" y2="742.2" stroke="#111" stroke-width="1.3"/>
<text x="228.7" y="744.43" font-size="6.2" font-weight="bold" text-anchor="end" fill="#333" stroke="#333" stroke-width="0.22" textLength="3.3" lengthAdjust="spacingAndGlyphs">0</text>
<line x1="231" y1="742.2" x2="323" y2="742.2" stroke="#111" stroke-width="1.3"/>
<text x="219.6" y="693.2" font-size="10.5" font-weight="bold" text-anchor="middle" fill="#111" stroke="#111" stroke-width="0.22" textLength="15" lengthAdjust="spacingAndGlyphs" transform="rotate(-90 219.6 693.2)">RQ</text>
<rect x="237.5" y="713.9231000000001" width="21.899999999999995" height="28.276899999999976" fill="#fff" stroke="#111" stroke-width="1.2"/>
<line x1="248.45" y1="713.3231000000001" x2="248.45" y2="711.5369000000001" stroke="#222" stroke-width="1.0"/>
<line x1="243.82999999999998" y1="711.5369000000001" x2="253.07" y2="711.5369000000001" stroke="#222" stroke-width="1.0"/>
<rect x="271.90000000000003" y="690.7025000000001" width="20.99999999999999" height="51.49749999999997" fill="#a4a4a4" stroke="#111" stroke-width="1.2"/>
<line x1="282.4" y1="690.1025000000001" x2="282.4" y2="687.7209" stroke="#222" stroke-width="1.0"/>
<line x1="277.96" y1="687.7209" x2="286.84" y2="687.7209" stroke="#222" stroke-width="1.0"/>
<rect x="296.90000000000003" y="662.421" width="22.49999999999999" height="79.77900000000002" fill="#5a5a5a" stroke="#111" stroke-width="1.2"/>
<line x1="308.15" y1="661.821" x2="308.15" y2="660.9279" stroke="#222" stroke-width="1.0"/>
<line x1="303.40999999999997" y1="660.9279" x2="312.89" y2="660.9279" stroke="#222" stroke-width="1.0"/>
<line x1="248.5" y1="640.4" x2="309.7" y2="640.4" stroke="#222" stroke-width="1.2"/>
<polygon points="274.00,631.62 275.10,633.86 277.57,634.22 275.78,635.95 276.20,638.41 274.00,637.25 271.80,638.41 272.22,635.95 270.43,634.22 272.90,633.86" fill="#222"/>
<polygon points="280.40,631.62 281.50,633.86 283.97,634.22 282.18,635.95 282.60,638.41 280.40,637.25 278.20,638.41 278.62,635.95 276.83,634.22 279.30,633.86" fill="#222"/>
<polygon points="286.80,631.62 287.90,633.86 290.37,634.22 288.58,635.95 289.00,638.41 286.80,637.25 284.60,638.41 285.02,635.95 283.23,634.22 285.70,633.86" fill="#222"/>
<line x1="280.3" y1="653.9" x2="310" y2="653.9" stroke="#222" stroke-width="1.2"/>
<polygon points="291.75,645.42 292.85,647.66 295.32,648.02 293.53,649.75 293.95,652.21 291.75,651.05 289.55,652.21 289.97,649.75 288.18,648.02 290.65,647.66" fill="#222"/>
<polygon points="298.25,645.42 299.35,647.66 301.82,648.02 300.03,649.75 300.45,652.21 298.25,651.05 296.05,652.21 296.47,649.75 294.68,648.02 297.15,647.66" fill="#222"/>
<text x="249.2" y="749.6" font-size="7.2" font-weight="bold" text-anchor="middle" fill="#111" stroke="#111" stroke-width="0.22">NT</text>
<text x="281.9" y="749.6" font-size="7.2" font-weight="bold" text-anchor="middle" fill="#111" stroke="#111" stroke-width="0.22">Hx</text>
<text x="309.8" y="749.6" font-size="7.2" font-weight="bold" text-anchor="middle" fill="#111" stroke="#111" stroke-width="0.22">HSA</text>
<line x1="271.9" y1="752.2" x2="318.5" y2="752.2" stroke="#333" stroke-width="1.1"/>
<text x="300" y="758.8" font-size="7.6" font-weight="bold" text-anchor="middle" fill="#111" stroke="#111" stroke-width="0.22" textLength="37.2" lengthAdjust="spacingAndGlyphs">+Heme 4h</text>
<text x="355.1" y="622.1" font-size="14" font-weight="bold" text-anchor="start" fill="#111" stroke="#111" stroke-width="0.22">K</text>
<text x="413.8" y="624" font-size="10.4" font-weight="bold" text-anchor="start" fill="#111" stroke="#111" stroke-width="0.22" textLength="53.9" lengthAdjust="spacingAndGlyphs">IL-6 mRNA</text>
<line x1="399.1" y1="652.9" x2="399.1" y2="743.1" stroke="#111" stroke-width="1.3"/>
<line x1="397.1" y1="652.9200000000001" x2="399.1" y2="652.9200000000001" stroke="#111" stroke-width="1.3"/>
<text x="396.8" y="655.08" font-size="6" font-weight="bold" text-anchor="end" fill="#333" stroke="#333" stroke-width="0.22" textLength="10.2" lengthAdjust="spacingAndGlyphs">4.5</text>
<line x1="397.1" y1="662.94" x2="399.1" y2="662.94" stroke="#111" stroke-width="1.3"/>
<text x="396.8" y="665.1" font-size="6" font-weight="bold" text-anchor="end" fill="#333" stroke="#333" stroke-width="0.22" textLength="10.2" lengthAdjust="spacingAndGlyphs">4.0</text>
<line x1="397.1" y1="672.96" x2="399.1" y2="672.96" stroke="#111" stroke-width="1.3"/>
<text x="396.8" y="675.12" font-size="6" font-weight="bold" text-anchor="end" fill="#333" stroke="#333" stroke-width="0.22" textLength="10.2" lengthAdjust="spacingAndGlyphs">3.5</text>
<line x1="397.1" y1="682.98" x2="399.1" y2="682.98" stroke="#111" stroke-width="1.3"/>
<text x="396.8" y="685.14" font-size="6" font-weight="bold" text-anchor="end" fill="#333" stroke="#333" stroke-width="0.22" textLength="10.2" lengthAdjust="spacingAndGlyphs">3.0</text>
<line x1="397.1" y1="693.0" x2="399.1" y2="693.0" stroke="#111" stroke-width="1.3"/>
<text x="396.8" y="695.16" font-size="6" font-weight="bold" text-anchor="end" fill="#333" stroke="#333" stroke-width="0.22" textLength="10.2" lengthAdjust="spacingAndGlyphs">2.5</text>
<line x1="397.1" y1="703.02" x2="399.1" y2="703.02" stroke="#111" stroke-width="1.3"/>
<text x="396.8" y="705.18" font-size="6" font-weight="bold" text-anchor="end" fill="#333" stroke="#333" stroke-width="0.22" textLength="10.2" lengthAdjust="spacingAndGlyphs">2.0</text>
<line x1="397.1" y1="713.0400000000001" x2="399.1" y2="713.0400000000001" stroke="#111" stroke-width="1.3"/>
<text x="396.8" y="715.2" font-size="6" font-weight="bold" text-anchor="end" fill="#333" stroke="#333" stroke-width="0.22" textLength="10.2" lengthAdjust="spacingAndGlyphs">1.5</text>
<line x1="397.1" y1="723.0600000000001" x2="399.1" y2="723.0600000000001" stroke="#111" stroke-width="1.3"/>
<text x="396.8" y="725.22" font-size="6" font-weight="bold" text-anchor="end" fill="#333" stroke="#333" stroke-width="0.22" textLength="10.2" lengthAdjust="spacingAndGlyphs">1.0</text>
<line x1="397.1" y1="733.08" x2="399.1" y2="733.08" stroke="#111" stroke-width="1.3"/>
<text x="396.8" y="735.24" font-size="6" font-weight="bold" text-anchor="end" fill="#333" stroke="#333" stroke-width="0.22" textLength="10.2" lengthAdjust="spacingAndGlyphs">0.5</text>
<line x1="397.1" y1="743.1" x2="399.1" y2="743.1" stroke="#111" stroke-width="1.3"/>
<text x="396.8" y="745.26" font-size="6" font-weight="bold" text-anchor="end" fill="#333" stroke="#333" stroke-width="0.22" textLength="10.2" lengthAdjust="spacingAndGlyphs">0.0</text>
<line x1="399.1" y1="743.1" x2="489.2" y2="743.1" stroke="#111" stroke-width="1.3"/>
<text x="383.4" y="694" font-size="10.8" font-weight="bold" text-anchor="middle" fill="#111" stroke="#111" stroke-width="0.22" textLength="14.5" lengthAdjust="spacingAndGlyphs" transform="rotate(-90 383.4 694)">RQ</text>
<rect x="405.8" y="717.0468000000001" width="21.3" height="26.05319999999997" fill="#fff" stroke="#111" stroke-width="1.2"/>
<line x1="416.45" y1="716.4468" x2="416.45" y2="711.0360000000001" stroke="#222" stroke-width="1.0"/>
<line x1="411.95" y1="711.0360000000001" x2="420.95" y2="711.0360000000001" stroke="#222" stroke-width="1.0"/>
<rect x="438.40000000000003" y="725.0628" width="20.99999999999999" height="18.037200000000006" fill="#a4a4a4" stroke="#111" stroke-width="1.2"/>
<line x1="448.9" y1="724.4628" x2="448.9" y2="719.052" stroke="#222" stroke-width="1.0"/>
<line x1="444.46" y1="719.052" x2="453.34" y2="719.052" stroke="#222" stroke-width="1.0"/>
<rect x="465.20000000000005" y="666.9468" width="21.3" height="76.1532" fill="#5a5a5a" stroke="#111" stroke-width="1.2"/>
<line x1="475.85" y1="666.3468" x2="475.85" y2="655.5252" stroke="#222" stroke-width="1.0"/>
<line x1="471.35" y1="655.5252" x2="480.35" y2="655.5252" stroke="#222" stroke-width="1.0"/>
<line x1="414.5" y1="640.4" x2="475" y2="640.4" stroke="#222" stroke-width="1.2"/>
<polygon points="440.38,630.88 441.46,633.08 443.88,633.43 442.13,635.14 442.54,637.55 440.38,636.41 438.21,637.55 438.62,635.14 436.87,633.43 439.29,633.08" fill="#222"/>
<polygon points="446.53,630.88 447.61,633.08 450.03,633.43 448.28,635.14 448.69,637.55 446.53,636.41 444.36,637.55 444.77,635.14 443.02,633.43 445.44,633.08" fill="#222"/>
<line x1="445.8" y1="651.2" x2="475" y2="651.2" stroke="#222" stroke-width="1.2"/>
<polygon points="457.05,642.73 458.15,644.96 460.62,645.32 458.83,647.05 459.25,649.51 457.05,648.35 454.85,649.51 455.27,647.05 453.48,645.32 455.95,644.96" fill="#222"/>
<polygon points="463.35,642.73 464.45,644.96 466.92,645.32 465.13,647.05 465.55,649.51 463.35,648.35 461.15,649.51 461.57,647.05 459.78,645.32 462.25,644.96" fill="#222"/>
<text x="416.5" y="750.2" font-size="7.2" font-weight="bold" text-anchor="middle" fill="#111" stroke="#111" stroke-width="0.22">NT</text>
<text x="449.6" y="750.2" font-size="7.2" font-weight="bold" text-anchor="middle" fill="#111" stroke="#111" stroke-width="0.22">Hx</text>
<text x="477.5" y="750.2" font-size="7.2" font-weight="bold" text-anchor="middle" fill="#111" stroke="#111" stroke-width="0.22">HSA</text>
<line x1="439.9" y1="752.4" x2="486.5" y2="752.4" stroke="#333" stroke-width="1.1"/>
<text x="467.3" y="758.8" font-size="7.6" font-weight="bold" text-anchor="middle" fill="#111" stroke="#111" stroke-width="0.22" textLength="36.5" lengthAdjust="spacingAndGlyphs">+Heme 4h</text>
</svg></body></html>
